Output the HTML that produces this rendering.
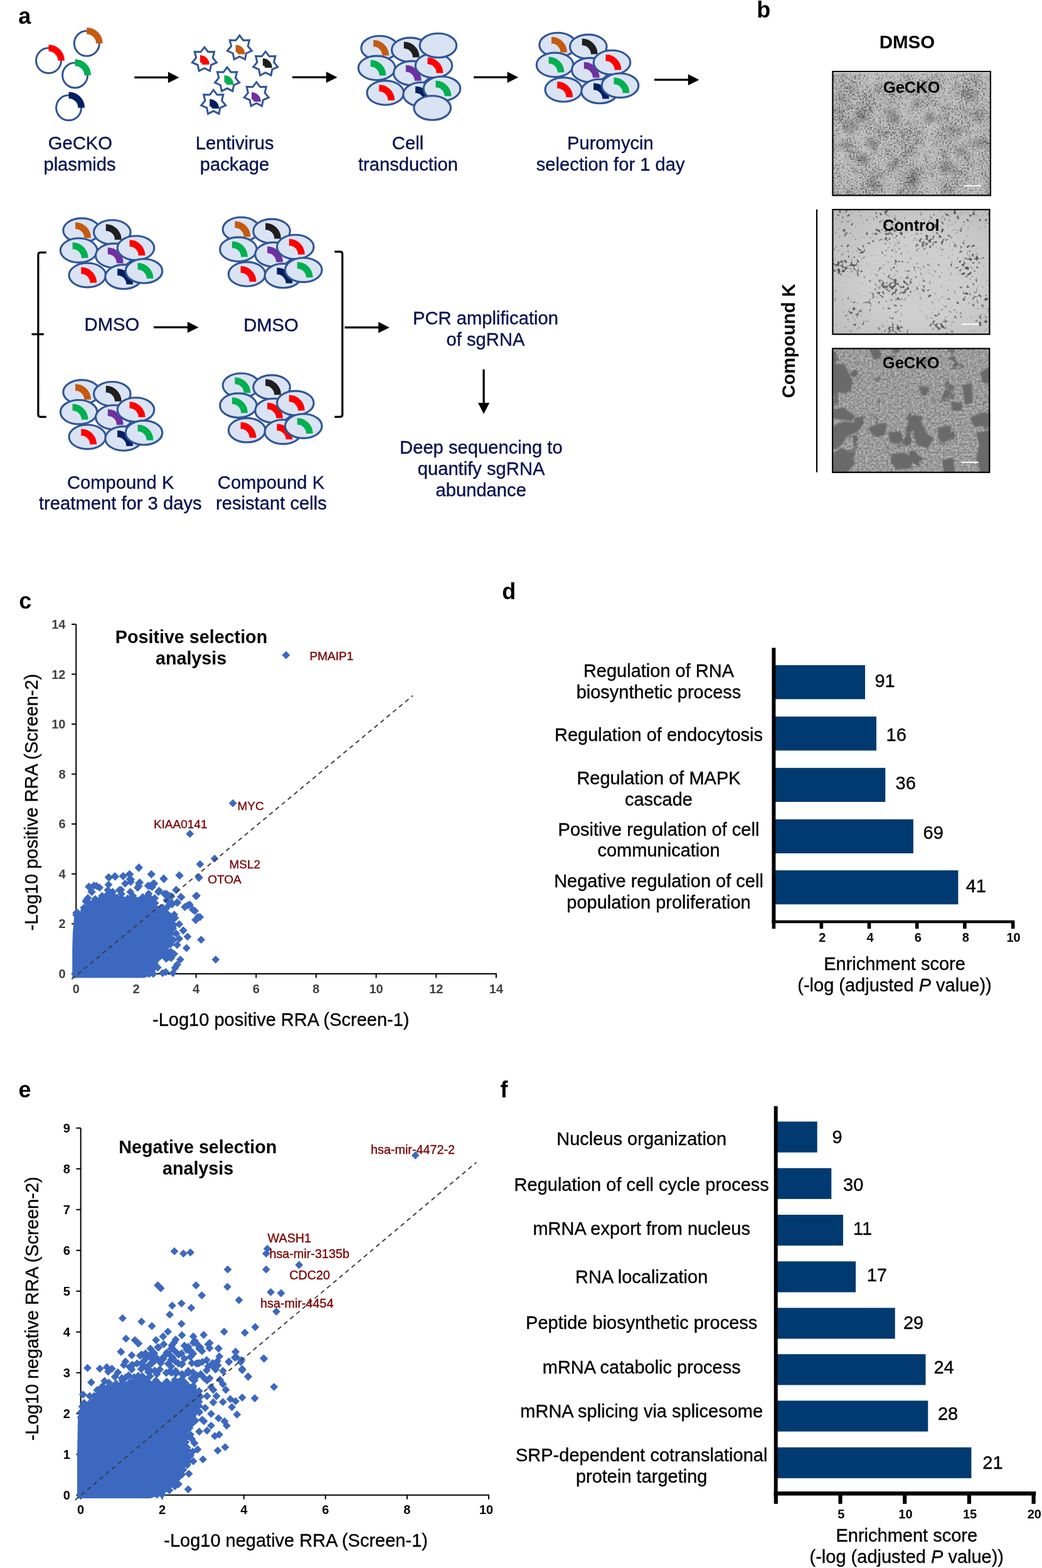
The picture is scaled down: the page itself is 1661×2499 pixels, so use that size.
<!DOCTYPE html>
<html><head><meta charset="utf-8"><title>Figure</title>
<style>html,body{margin:0;padding:0;background:#fff;}svg{display:block;}text{font-family:'Liberation Sans', Arial, Helvetica, sans-serif;}</style>
</head><body>
<svg width="1661" height="2499" viewBox="0 0 1661 2499" font-family="'Liberation Sans', Arial, Helvetica, sans-serif">
<rect width="1661" height="2499" fill="#fff"/>
<defs>
<filter id="blot" x="-1" y="-1" width="3" height="3"><feGaussianBlur stdDeviation="3.5"/></filter>
<filter id="soft" x="-0.1" y="-0.1" width="1.2" height="1.2"><feGaussianBlur stdDeviation="0.8"/></filter>
<radialGradient id="vig" cx="0.55" cy="0.55" r="0.75"><stop offset="0.45" stop-color="#000" stop-opacity="0"/><stop offset="1" stop-color="#000" stop-opacity="0.09"/></radialGradient>
<filter id="m1" x="0" y="0" width="1" height="1" color-interpolation-filters="sRGB">
 <feTurbulence type="fractalNoise" baseFrequency="0.4" numOctaves="2" seed="4" result="f0"/>
 <feColorMatrix in="f0" type="matrix" values="1 0 0 0 0 1 0 0 0 0 1 0 0 0 0 0 0 0 0 1" result="f"/>
 <feTurbulence type="fractalNoise" baseFrequency="0.03" numOctaves="3" seed="9" result="c0"/>
 <feColorMatrix in="c0" type="matrix" values="1 0 0 0 0 1 0 0 0 0 1 0 0 0 0 0 0 0 0 1" result="c"/>
 <feComposite in="f" in2="c" operator="arithmetic" k1="0" k2="0.75" k3="0.25" k4="0" result="m"/>
 <feComponentTransfer in="m" result="base"><feFuncR type="table" tableValues="0.79 0.79 0.79 0.78 0.77 0.73 0.56 0.40 0.35 0.3 0.3"/><feFuncG type="table" tableValues="0.79 0.79 0.79 0.78 0.77 0.73 0.56 0.40 0.35 0.3 0.3"/><feFuncB type="table" tableValues="0.79 0.79 0.79 0.78 0.77 0.73 0.56 0.40 0.35 0.3 0.3"/></feComponentTransfer>
 <feTurbulence type="fractalNoise" baseFrequency="0.06" numOctaves="2" seed="17" result="b0"/>
 <feColorMatrix in="b0" type="matrix" values="1 0 0 0 0 1 0 0 0 0 1 0 0 0 0 0 0 0 0 1" result="b"/>
 <feComponentTransfer in="b" result="bt"><feFuncR type="table" tableValues="1 1 1 1 1 1 0.97 0.9 0.86 0.85 0.85"/><feFuncG type="table" tableValues="1 1 1 1 1 1 0.97 0.9 0.86 0.85 0.85"/><feFuncB type="table" tableValues="1 1 1 1 1 1 0.97 0.9 0.86 0.85 0.85"/></feComponentTransfer>
 <feComposite in="base" in2="bt" operator="arithmetic" k1="1" k2="0" k3="0" k4="0"/>
</filter>
<filter id="m2" x="0" y="0" width="1" height="1" color-interpolation-filters="sRGB">
 <feTurbulence type="fractalNoise" baseFrequency="0.2" numOctaves="2" seed="21" result="f0"/>
 <feColorMatrix in="f0" type="matrix" values="1 0 0 0 0 1 0 0 0 0 1 0 0 0 0 0 0 0 0 1" result="f"/>
 <feTurbulence type="fractalNoise" baseFrequency="0.025" numOctaves="2" seed="5" result="c0"/>
 <feColorMatrix in="c0" type="matrix" values="1 0 0 0 0 1 0 0 0 0 1 0 0 0 0 0 0 0 0 1" result="c"/>
 <feComposite in="f" in2="c" operator="arithmetic" k1="0" k2="0.62" k3="0.38" k4="0" result="m"/>
 <feComponentTransfer in="m"><feFuncR type="table" tableValues="0.810 0.810 0.810 0.810 0.810 0.810 0.810 0.810 0.810 0.810 0.810 0.810 0.810 0.810 0.810 0.810 0.810 0.810 0.810 0.810 0.810 0.810 0.810 0.810 0.810 0.810 0.810 0.810 0.810 0.785 0.760 0.657 0.557 0.466 0.402 0.366 0.330 0.328 0.326 0.324 0.321 0.319 0.317 0.315 0.313 0.311 0.309 0.306 0.304 0.302 0.300"/><feFuncG type="table" tableValues="0.810 0.810 0.810 0.810 0.810 0.810 0.810 0.810 0.810 0.810 0.810 0.810 0.810 0.810 0.810 0.810 0.810 0.810 0.810 0.810 0.810 0.810 0.810 0.810 0.810 0.810 0.810 0.810 0.810 0.785 0.760 0.657 0.557 0.466 0.402 0.366 0.330 0.328 0.326 0.324 0.321 0.319 0.317 0.315 0.313 0.311 0.309 0.306 0.304 0.302 0.300"/><feFuncB type="table" tableValues="0.810 0.810 0.810 0.810 0.810 0.810 0.810 0.810 0.810 0.810 0.810 0.810 0.810 0.810 0.810 0.810 0.810 0.810 0.810 0.810 0.810 0.810 0.810 0.810 0.810 0.810 0.810 0.810 0.810 0.785 0.760 0.657 0.557 0.466 0.402 0.366 0.330 0.328 0.326 0.324 0.321 0.319 0.317 0.315 0.313 0.311 0.309 0.306 0.304 0.302 0.300"/></feComponentTransfer>
</filter>
<filter id="m3" x="0" y="0" width="1" height="1" color-interpolation-filters="sRGB">
 <feTurbulence type="fractalNoise" baseFrequency="0.032" numOctaves="4" seed="3" result="c0"/>
 <feColorMatrix in="c0" type="matrix" values="1 0 0 0 0 1 0 0 0 0 1 0 0 0 0 0 0 0 0 1" result="c"/>
 <feComponentTransfer in="c" result="ct"><feFuncR type="table" tableValues="0.410 0.410 0.410 0.410 0.410 0.410 0.477 0.610 0.610 0.610 0.610 0.610 0.610 0.610 0.610 0.610 0.610 0.610 0.610 0.610 0.610"/><feFuncG type="table" tableValues="0.410 0.410 0.410 0.410 0.410 0.410 0.477 0.610 0.610 0.610 0.610 0.610 0.610 0.610 0.610 0.610 0.610 0.610 0.610 0.610 0.610"/><feFuncB type="table" tableValues="0.410 0.410 0.410 0.410 0.410 0.410 0.477 0.610 0.610 0.610 0.610 0.610 0.610 0.610 0.610 0.610 0.610 0.610 0.610 0.610 0.610"/></feComponentTransfer>
 <feTurbulence type="fractalNoise" baseFrequency="0.3" numOctaves="2" seed="11" result="f0"/>
 <feColorMatrix in="f0" type="matrix" values="1 0 0 0 0 1 0 0 0 0 1 0 0 0 0 0 0 0 0 1" result="f"/>
 <feComposite in="ct" in2="f" operator="arithmetic" k1="2.2" k2="-0.1" k3="-0.88" k4="0.44"/>
</filter>
</defs>
<text x="29.2" y="38.3" font-size="36" fill="#000" font-weight="bold">a</text>
<text x="1206.2" y="27.6" font-size="36" fill="#000" font-weight="bold">b</text>
<text x="30.3" y="969.6" font-size="36" fill="#000" font-weight="bold">c</text>
<text x="800.3" y="954.9" font-size="36" fill="#000" font-weight="bold">d</text>
<text x="29.5" y="1748.7" font-size="36" fill="#000" font-weight="bold">e</text>
<text x="797.5" y="1748.8" font-size="36" fill="#000" font-weight="bold">f</text>
<circle cx="138.3" cy="69.3" r="20" fill="none" stroke="#2f5597" stroke-width="3"/>
<path d="M138.3 49.2A20.1 20.1 0 0 1 158.4 69.3" fill="none" stroke="#c55a11" stroke-width="10.6"/>
<circle cx="77.5" cy="96.6" r="20" fill="none" stroke="#2f5597" stroke-width="3"/>
<path d="M77.5 76.5A20.1 20.1 0 0 1 97.6 96.6" fill="none" stroke="#ff0000" stroke-width="10.6"/>
<circle cx="119.6" cy="120" r="20" fill="none" stroke="#2f5597" stroke-width="3"/>
<path d="M119.6 99.9A20.1 20.1 0 0 1 139.7 120" fill="none" stroke="#00b050" stroke-width="10.6"/>
<circle cx="109.6" cy="171.8" r="20" fill="none" stroke="#2f5597" stroke-width="3"/>
<path d="M109.6 151.7A20.1 20.1 0 0 1 129.7 171.8" fill="none" stroke="#002060" stroke-width="10.6"/>
<polygon points="325.9,75.1 331.8,82.8 341.5,82.6 339.2,92.1 345.4,99.6 336.5,103.6 334.6,113.1 325.9,108.7 317.2,113.1 315.3,103.6 306.4,99.6 312.6,92.1 310.3,82.6 320,82.8" fill="#fff" stroke="#2f5597" stroke-width="3"/>
<path d="M318.9 88A15 15 0 0 1 333.9 103L322.4 103A3.5 3.5 0 0 0 318.9 99.5Z" fill="#ff0000"/>
<polygon points="381.9,56.5 387.8,64.2 397.5,64 395.2,73.5 401.4,81 392.5,85 390.6,94.5 381.9,90.1 373.2,94.5 371.3,85 362.4,81 368.6,73.5 366.3,64 376,64.2" fill="#fff" stroke="#2f5597" stroke-width="3"/>
<path d="M375.6 71.4A15 15 0 0 1 390.6 86.4L379.1 86.4A3.5 3.5 0 0 0 375.6 82.9Z" fill="#c55a11"/>
<polygon points="423.3,82.1 429.2,89.8 438.9,89.6 436.6,99.1 442.8,106.6 433.9,110.6 432,120.1 423.3,115.7 414.6,120.1 412.7,110.6 403.8,106.6 410,99.1 407.7,89.6 417.4,89.8" fill="#fff" stroke="#2f5597" stroke-width="3"/>
<path d="M418.9 93.1A15 15 0 0 1 433.9 108.1L422.4 108.1A3.5 3.5 0 0 0 418.9 104.6Z" fill="#1f1f1f"/>
<polygon points="362.1,107.2 368,114.9 377.7,114.7 375.4,124.2 381.6,131.7 372.7,135.7 370.8,145.2 362.1,140.8 353.4,145.2 351.5,135.7 342.6,131.7 348.8,124.2 346.5,114.7 356.2,114.9" fill="#fff" stroke="#2f5597" stroke-width="3"/>
<path d="M357.5 120A15 15 0 0 1 372.5 135L361 135A3.5 3.5 0 0 0 357.5 131.5Z" fill="#00b050"/>
<polygon points="408.8,130.9 414.7,138.6 424.4,138.4 422.1,147.9 428.3,155.4 419.4,159.4 417.5,168.9 408.8,164.5 400.1,168.9 398.2,159.4 389.3,155.4 395.5,147.9 393.2,138.4 402.9,138.6" fill="#fff" stroke="#2f5597" stroke-width="3"/>
<path d="M401 147A15 15 0 0 1 416 162L404.5 162A3.5 3.5 0 0 0 401 158.5Z" fill="#7030a0"/>
<polygon points="340.3,143.4 346.2,151.1 355.9,150.9 353.6,160.4 359.8,167.9 350.9,171.9 349,181.4 340.3,177 331.6,181.4 329.7,171.9 320.8,167.9 327,160.4 324.7,150.9 334.4,151.1" fill="#fff" stroke="#2f5597" stroke-width="3"/>
<path d="M334.2 157.9A15 15 0 0 1 349.2 172.9L337.7 172.9A3.5 3.5 0 0 0 334.2 169.4Z" fill="#002060"/>
<ellipse cx="605.1" cy="76.5" rx="29.3" ry="19.3" fill="#dae3f3" stroke="#2f5597" stroke-width="3.1"/>
<path d="M595.1 69A19.6 19.6 0 0 1 614.6 88.5" fill="none" stroke="#c55a11" stroke-width="10.7"/>
<ellipse cx="653.8" cy="79.4" rx="29.3" ry="19.3" fill="#dae3f3" stroke="#2f5597" stroke-width="3.1"/>
<path d="M643.8 71.9A19.6 19.6 0 0 1 663.3 91.4" fill="none" stroke="#1f1f1f" stroke-width="10.7"/>
<ellipse cx="600.6" cy="108.4" rx="29.3" ry="19.3" fill="#dae3f3" stroke="#2f5597" stroke-width="3.1"/>
<path d="M590.6 100.9A19.6 19.6 0 0 1 610.1 120.4" fill="none" stroke="#00b050" stroke-width="10.7"/>
<ellipse cx="656.8" cy="116.7" rx="29.3" ry="19.3" fill="#dae3f3" stroke="#2f5597" stroke-width="3.1"/>
<path d="M646.8 109.1A19.6 19.6 0 0 1 666.3 128.7" fill="none" stroke="#7030a0" stroke-width="10.7"/>
<ellipse cx="691.5" cy="104.6" rx="29.3" ry="19.3" fill="#dae3f3" stroke="#2f5597" stroke-width="3.1"/>
<path d="M681.5 97A19.6 19.6 0 0 1 701 116.6" fill="none" stroke="#ff0000" stroke-width="10.7"/>
<ellipse cx="698.4" cy="72.5" rx="29.3" ry="19.3" fill="#dae3f3" stroke="#2f5597" stroke-width="3.1"/>
<ellipse cx="614.3" cy="147.9" rx="29.3" ry="19.3" fill="#dae3f3" stroke="#2f5597" stroke-width="3.1"/>
<path d="M604.3 140.3A19.6 19.6 0 0 1 623.8 159.9" fill="none" stroke="#ff0000" stroke-width="10.7"/>
<ellipse cx="672.1" cy="150.5" rx="29.3" ry="19.3" fill="#dae3f3" stroke="#2f5597" stroke-width="3.1"/>
<path d="M662.1 142.9A19.6 19.6 0 0 1 681.6 162.5" fill="none" stroke="#002060" stroke-width="10.7"/>
<ellipse cx="704.5" cy="141.3" rx="29.3" ry="19.3" fill="#dae3f3" stroke="#2f5597" stroke-width="3.1"/>
<path d="M694.5 133.8A19.6 19.6 0 0 1 714 153.3" fill="none" stroke="#00b050" stroke-width="10.7"/>
<ellipse cx="689.2" cy="172" rx="29.3" ry="19.3" fill="#dae3f3" stroke="#2f5597" stroke-width="3.1"/>
<ellipse cx="889.1" cy="71.5" rx="29.3" ry="19.3" fill="#dae3f3" stroke="#2f5597" stroke-width="3.1"/>
<path d="M879.1 64A19.6 19.6 0 0 1 898.6 83.5" fill="none" stroke="#c55a11" stroke-width="10.7"/>
<ellipse cx="937.8" cy="74.4" rx="29.3" ry="19.3" fill="#dae3f3" stroke="#2f5597" stroke-width="3.1"/>
<path d="M927.8 66.9A19.6 19.6 0 0 1 947.3 86.4" fill="none" stroke="#1f1f1f" stroke-width="10.7"/>
<ellipse cx="884.6" cy="103.4" rx="29.3" ry="19.3" fill="#dae3f3" stroke="#2f5597" stroke-width="3.1"/>
<path d="M874.6 95.9A19.6 19.6 0 0 1 894.1 115.4" fill="none" stroke="#00b050" stroke-width="10.7"/>
<ellipse cx="940.8" cy="111.7" rx="29.3" ry="19.3" fill="#dae3f3" stroke="#2f5597" stroke-width="3.1"/>
<path d="M930.8 104.2A19.6 19.6 0 0 1 950.3 123.7" fill="none" stroke="#7030a0" stroke-width="10.7"/>
<ellipse cx="975.5" cy="99.6" rx="29.3" ry="19.3" fill="#dae3f3" stroke="#2f5597" stroke-width="3.1"/>
<path d="M965.5 92A19.6 19.6 0 0 1 985 111.6" fill="none" stroke="#ff0000" stroke-width="10.7"/>
<ellipse cx="898.3" cy="142.9" rx="29.3" ry="19.3" fill="#dae3f3" stroke="#2f5597" stroke-width="3.1"/>
<path d="M888.3 135.3A19.6 19.6 0 0 1 907.8 154.9" fill="none" stroke="#ff0000" stroke-width="10.7"/>
<ellipse cx="956.1" cy="145.5" rx="29.3" ry="19.3" fill="#dae3f3" stroke="#2f5597" stroke-width="3.1"/>
<path d="M946.1 137.9A19.6 19.6 0 0 1 965.6 157.5" fill="none" stroke="#002060" stroke-width="10.7"/>
<ellipse cx="988.5" cy="136.3" rx="29.3" ry="19.3" fill="#dae3f3" stroke="#2f5597" stroke-width="3.1"/>
<path d="M978.5 128.8A19.6 19.6 0 0 1 998 148.3" fill="none" stroke="#00b050" stroke-width="10.7"/>
<ellipse cx="130.1" cy="367.2" rx="29.3" ry="19.3" fill="#dae3f3" stroke="#2f5597" stroke-width="3.1"/>
<path d="M120.1 359.6A19.6 19.6 0 0 1 139.7 379.2" fill="none" stroke="#c55a11" stroke-width="10.7"/>
<ellipse cx="178.8" cy="370.1" rx="29.3" ry="19.3" fill="#dae3f3" stroke="#2f5597" stroke-width="3.1"/>
<path d="M168.8 362.6A19.6 19.6 0 0 1 188.3 382.1" fill="none" stroke="#1f1f1f" stroke-width="10.7"/>
<ellipse cx="125.6" cy="399.1" rx="29.3" ry="19.3" fill="#dae3f3" stroke="#2f5597" stroke-width="3.1"/>
<path d="M115.6 391.6A19.6 19.6 0 0 1 135.2 411.1" fill="none" stroke="#00b050" stroke-width="10.7"/>
<ellipse cx="181.8" cy="407.4" rx="29.3" ry="19.3" fill="#dae3f3" stroke="#2f5597" stroke-width="3.1"/>
<path d="M171.8 399.8A19.6 19.6 0 0 1 191.3 419.4" fill="none" stroke="#7030a0" stroke-width="10.7"/>
<ellipse cx="216.5" cy="395.3" rx="29.3" ry="19.3" fill="#dae3f3" stroke="#2f5597" stroke-width="3.1"/>
<path d="M206.5 387.7A19.6 19.6 0 0 1 226.1 407.3" fill="none" stroke="#ff0000" stroke-width="10.7"/>
<ellipse cx="139.3" cy="438.6" rx="29.3" ry="19.3" fill="#dae3f3" stroke="#2f5597" stroke-width="3.1"/>
<path d="M129.3 431.1A19.6 19.6 0 0 1 148.8 450.6" fill="none" stroke="#ff0000" stroke-width="10.7"/>
<ellipse cx="197.1" cy="441.2" rx="29.3" ry="19.3" fill="#dae3f3" stroke="#2f5597" stroke-width="3.1"/>
<path d="M187.1 433.6A19.6 19.6 0 0 1 206.7 453.2" fill="none" stroke="#002060" stroke-width="10.7"/>
<ellipse cx="229.5" cy="432" rx="29.3" ry="19.3" fill="#dae3f3" stroke="#2f5597" stroke-width="3.1"/>
<path d="M219.5 424.4A19.6 19.6 0 0 1 239.1 444" fill="none" stroke="#00b050" stroke-width="10.7"/>
<ellipse cx="384.4" cy="365.5" rx="29.3" ry="19.3" fill="#dae3f3" stroke="#2f5597" stroke-width="3.1"/>
<path d="M374.4 357.9A19.6 19.6 0 0 1 394 377.5" fill="none" stroke="#c55a11" stroke-width="10.7"/>
<ellipse cx="433.1" cy="368.4" rx="29.3" ry="19.3" fill="#dae3f3" stroke="#2f5597" stroke-width="3.1"/>
<path d="M423.1 360.8A19.6 19.6 0 0 1 442.6 380.4" fill="none" stroke="#1f1f1f" stroke-width="10.7"/>
<ellipse cx="379.9" cy="397.4" rx="29.3" ry="19.3" fill="#dae3f3" stroke="#2f5597" stroke-width="3.1"/>
<path d="M369.9 389.8A19.6 19.6 0 0 1 389.5 409.4" fill="none" stroke="#00b050" stroke-width="10.7"/>
<ellipse cx="436.1" cy="405.7" rx="29.3" ry="19.3" fill="#dae3f3" stroke="#2f5597" stroke-width="3.1"/>
<path d="M426.1 398.1A19.6 19.6 0 0 1 445.6 417.7" fill="none" stroke="#7030a0" stroke-width="10.7"/>
<ellipse cx="470.8" cy="393.6" rx="29.3" ry="19.3" fill="#dae3f3" stroke="#2f5597" stroke-width="3.1"/>
<path d="M460.8 386.1A19.6 19.6 0 0 1 480.4 405.6" fill="none" stroke="#ff0000" stroke-width="10.7"/>
<ellipse cx="393.6" cy="436.9" rx="29.3" ry="19.3" fill="#dae3f3" stroke="#2f5597" stroke-width="3.1"/>
<path d="M383.6 429.3A19.6 19.6 0 0 1 403.1 448.9" fill="none" stroke="#ff0000" stroke-width="10.7"/>
<ellipse cx="451.4" cy="439.5" rx="29.3" ry="19.3" fill="#dae3f3" stroke="#2f5597" stroke-width="3.1"/>
<path d="M441.4 431.9A19.6 19.6 0 0 1 461 451.5" fill="none" stroke="#002060" stroke-width="10.7"/>
<ellipse cx="483.8" cy="430.3" rx="29.3" ry="19.3" fill="#dae3f3" stroke="#2f5597" stroke-width="3.1"/>
<path d="M473.8 422.8A19.6 19.6 0 0 1 493.4 442.3" fill="none" stroke="#00b050" stroke-width="10.7"/>
<ellipse cx="130.1" cy="624.9" rx="29.3" ry="19.3" fill="#dae3f3" stroke="#2f5597" stroke-width="3.1"/>
<path d="M120.1 617.4A19.6 19.6 0 0 1 139.7 636.9" fill="none" stroke="#c55a11" stroke-width="10.7"/>
<ellipse cx="178.8" cy="627.8" rx="29.3" ry="19.3" fill="#dae3f3" stroke="#2f5597" stroke-width="3.1"/>
<path d="M168.8 620.2A19.6 19.6 0 0 1 188.3 639.8" fill="none" stroke="#1f1f1f" stroke-width="10.7"/>
<ellipse cx="125.6" cy="656.8" rx="29.3" ry="19.3" fill="#dae3f3" stroke="#2f5597" stroke-width="3.1"/>
<path d="M115.6 649.2A19.6 19.6 0 0 1 135.2 668.8" fill="none" stroke="#00b050" stroke-width="10.7"/>
<ellipse cx="181.8" cy="665.1" rx="29.3" ry="19.3" fill="#dae3f3" stroke="#2f5597" stroke-width="3.1"/>
<path d="M171.8 657.6A19.6 19.6 0 0 1 191.3 677.1" fill="none" stroke="#7030a0" stroke-width="10.7"/>
<ellipse cx="216.5" cy="653" rx="29.3" ry="19.3" fill="#dae3f3" stroke="#2f5597" stroke-width="3.1"/>
<path d="M206.5 645.5A19.6 19.6 0 0 1 226.1 665" fill="none" stroke="#ff0000" stroke-width="10.7"/>
<ellipse cx="139.3" cy="696.3" rx="29.3" ry="19.3" fill="#dae3f3" stroke="#2f5597" stroke-width="3.1"/>
<path d="M129.3 688.8A19.6 19.6 0 0 1 148.8 708.3" fill="none" stroke="#ff0000" stroke-width="10.7"/>
<ellipse cx="197.1" cy="698.9" rx="29.3" ry="19.3" fill="#dae3f3" stroke="#2f5597" stroke-width="3.1"/>
<path d="M187.1 691.4A19.6 19.6 0 0 1 206.7 710.9" fill="none" stroke="#002060" stroke-width="10.7"/>
<ellipse cx="229.5" cy="689.7" rx="29.3" ry="19.3" fill="#dae3f3" stroke="#2f5597" stroke-width="3.1"/>
<path d="M219.5 682.2A19.6 19.6 0 0 1 239.1 701.7" fill="none" stroke="#00b050" stroke-width="10.7"/>
<ellipse cx="384.4" cy="614.3" rx="29.3" ry="19.3" fill="#dae3f3" stroke="#2f5597" stroke-width="3.1"/>
<path d="M374.4 606.8A19.6 19.6 0 0 1 394 626.3" fill="none" stroke="#00b050" stroke-width="10.7"/>
<ellipse cx="433.1" cy="617.2" rx="29.3" ry="19.3" fill="#dae3f3" stroke="#2f5597" stroke-width="3.1"/>
<path d="M423.1 609.6A19.6 19.6 0 0 1 442.6 629.2" fill="none" stroke="#1f1f1f" stroke-width="10.7"/>
<ellipse cx="379.9" cy="646.2" rx="29.3" ry="19.3" fill="#dae3f3" stroke="#2f5597" stroke-width="3.1"/>
<path d="M369.9 638.6A19.6 19.6 0 0 1 389.5 658.2" fill="none" stroke="#00b050" stroke-width="10.7"/>
<ellipse cx="436.1" cy="654.5" rx="29.3" ry="19.3" fill="#dae3f3" stroke="#2f5597" stroke-width="3.1"/>
<path d="M426.1 647A19.6 19.6 0 0 1 445.6 666.5" fill="none" stroke="#ff0000" stroke-width="10.7"/>
<ellipse cx="470.8" cy="642.4" rx="29.3" ry="19.3" fill="#dae3f3" stroke="#2f5597" stroke-width="3.1"/>
<path d="M460.8 634.9A19.6 19.6 0 0 1 480.4 654.4" fill="none" stroke="#ff0000" stroke-width="10.7"/>
<ellipse cx="393.6" cy="685.7" rx="29.3" ry="19.3" fill="#dae3f3" stroke="#2f5597" stroke-width="3.1"/>
<path d="M383.6 678.1A19.6 19.6 0 0 1 403.1 697.7" fill="none" stroke="#ff0000" stroke-width="10.7"/>
<ellipse cx="451.4" cy="688.3" rx="29.3" ry="19.3" fill="#dae3f3" stroke="#2f5597" stroke-width="3.1"/>
<path d="M441.4 680.8A19.6 19.6 0 0 1 461 700.3" fill="none" stroke="#ff0000" stroke-width="10.7"/>
<ellipse cx="483.8" cy="679.1" rx="29.3" ry="19.3" fill="#dae3f3" stroke="#2f5597" stroke-width="3.1"/>
<path d="M473.8 671.5A19.6 19.6 0 0 1 493.4 691.1" fill="none" stroke="#00b050" stroke-width="10.7"/>
<line x1="214.3" y1="123.4" x2="268.9" y2="123.4" stroke="#000" stroke-width="3.3"/>
<polygon points="267.9,114.5 285.6,123.4 267.9,132.3" fill="#000"/>
<line x1="466.1" y1="123.2" x2="521" y2="123.2" stroke="#000" stroke-width="3.3"/>
<polygon points="520,114.3 537.7,123.2 520,132.1" fill="#000"/>
<line x1="755.1" y1="123.2" x2="809.6" y2="123.2" stroke="#000" stroke-width="3.3"/>
<polygon points="808.6,114.3 826.3,123.2 808.6,132.1" fill="#000"/>
<line x1="1043.1" y1="127.2" x2="1097.8" y2="127.2" stroke="#000" stroke-width="3.3"/>
<polygon points="1096.8,118.3 1114.5,127.2 1096.8,136.1" fill="#000"/>
<line x1="245" y1="521.7" x2="299.8" y2="521.7" stroke="#000" stroke-width="3.3"/>
<polygon points="298.8,512.8 316.5,521.7 298.8,530.6" fill="#000"/>
<line x1="549.5" y1="521.9" x2="604.2" y2="521.9" stroke="#000" stroke-width="3.3"/>
<polygon points="603.2,513 620.9,521.9 603.2,530.8" fill="#000"/>
<line x1="771.1" y1="588.7" x2="771.1" y2="643.1" stroke="#000" stroke-width="3.3"/>
<polygon points="762,642.1 771.1,659.8 780.2,642.1" fill="#000"/>
<path d="M73.8 402.3H64.5Q60.9 402.3 60.9 405.9V660.7Q60.9 664.3 64.5 664.3H73.8" fill="none" stroke="#000" stroke-width="3.2"/>
<line x1="50.5" y1="532.7" x2="69.8" y2="532.7" stroke="#000" stroke-width="3.2"/>
<path d="M533.3 401.1H542.2Q545.8 401.1 545.8 404.7V660.7Q545.8 664.3 542.2 664.3H533.3" fill="none" stroke="#000" stroke-width="3.2"/>
<text x="127.8" y="238.3" font-size="29.2" fill="#050f4f" text-anchor="middle" stroke="#050f4f" stroke-width="0.35">GeCKO</text>
<text x="127" y="271.9" font-size="29.2" fill="#050f4f" text-anchor="middle" stroke="#050f4f" stroke-width="0.35">plasmids</text>
<text x="374.2" y="238.3" font-size="29.2" fill="#050f4f" text-anchor="middle" stroke="#050f4f" stroke-width="0.35">Lentivirus</text>
<text x="374" y="271.9" font-size="29.2" fill="#050f4f" text-anchor="middle" stroke="#050f4f" stroke-width="0.35">package</text>
<text x="650" y="237.9" font-size="29.2" fill="#050f4f" text-anchor="middle" stroke="#050f4f" stroke-width="0.35">Cell</text>
<text x="650.4" y="272.3" font-size="29.2" fill="#050f4f" text-anchor="middle" stroke="#050f4f" stroke-width="0.35">transduction</text>
<text x="972.9" y="237.9" font-size="29.2" fill="#050f4f" text-anchor="middle" stroke="#050f4f" stroke-width="0.35">Puromycin</text>
<text x="973.2" y="272.3" font-size="29.2" fill="#050f4f" text-anchor="middle" stroke="#050f4f" stroke-width="0.35">selection for 1 day</text>
<text x="178.4" y="526.8" font-size="29.2" fill="#050f4f" text-anchor="middle" stroke="#050f4f" stroke-width="0.35">DMSO</text>
<text x="432" y="528.1" font-size="29.2" fill="#050f4f" text-anchor="middle" stroke="#050f4f" stroke-width="0.35">DMSO</text>
<text x="774" y="516.7" font-size="29.2" fill="#050f4f" text-anchor="middle" stroke="#050f4f" stroke-width="0.35">PCR amplification</text>
<text x="774" y="551.2" font-size="29.2" fill="#050f4f" text-anchor="middle" stroke="#050f4f" stroke-width="0.35">of sgRNA</text>
<text x="766.9" y="722.6" font-size="29.2" fill="#050f4f" text-anchor="middle" stroke="#050f4f" stroke-width="0.35">Deep sequencing to</text>
<text x="767.1" y="757" font-size="29.2" fill="#050f4f" text-anchor="middle" stroke="#050f4f" stroke-width="0.35">quantify sgRNA</text>
<text x="766.7" y="790.9" font-size="29.2" fill="#050f4f" text-anchor="middle" stroke="#050f4f" stroke-width="0.35">abundance</text>
<text x="192.2" y="779.1" font-size="29.2" fill="#050f4f" text-anchor="middle" stroke="#050f4f" stroke-width="0.35">Compound K</text>
<text x="191.8" y="811.9" font-size="29.2" fill="#050f4f" text-anchor="middle" stroke="#050f4f" stroke-width="0.35">treatment for 3 days</text>
<text x="432" y="779.1" font-size="29.2" fill="#050f4f" text-anchor="middle" stroke="#050f4f" stroke-width="0.35">Compound K</text>
<text x="432.4" y="811.9" font-size="29.2" fill="#050f4f" text-anchor="middle" stroke="#050f4f" stroke-width="0.35">resistant cells</text>
<text x="1445.9" y="77.1" font-size="29.5" fill="#000" text-anchor="middle" font-weight="bold">DMSO</text>
<text transform="translate(1267 543.4) rotate(-90)" x="0" y="0" font-size="29" font-weight="bold" text-anchor="middle">Compound K</text>
<line x1="1302" y1="333.8" x2="1302" y2="752.8" stroke="#000" stroke-width="2.2"/>
<rect x="1327.4" y="114" width="251.5" height="197.4" filter="url(#m1)" opacity="1"/>
<ellipse cx="1356.2" cy="201.6" rx="12" ry="9" fill="#000" opacity="0.2" filter="url(#blot)"/>
<ellipse cx="1342.4" cy="158.5" rx="9" ry="7" fill="#000" opacity="0.2" filter="url(#blot)"/>
<ellipse cx="1423.3" cy="186.1" rx="10" ry="8" fill="#000" opacity="0.2" filter="url(#blot)"/>
<ellipse cx="1481.9" cy="186.1" rx="9" ry="8" fill="#000" opacity="0.2" filter="url(#blot)"/>
<ellipse cx="1559.4" cy="186.1" rx="9" ry="8" fill="#000" opacity="0.2" filter="url(#blot)"/>
<ellipse cx="1561" cy="227.4" rx="10" ry="8" fill="#000" opacity="0.2" filter="url(#blot)"/>
<ellipse cx="1345.8" cy="230.9" rx="10" ry="7" fill="#000" opacity="0.2" filter="url(#blot)"/>
<ellipse cx="1388.9" cy="227.4" rx="10" ry="8" fill="#000" opacity="0.2" filter="url(#blot)"/>
<ellipse cx="1509.4" cy="268" rx="12" ry="10" fill="#000" opacity="0.2" filter="url(#blot)"/>
<ellipse cx="1454.3" cy="286" rx="11" ry="7" fill="#000" opacity="0.2" filter="url(#blot)"/>
<ellipse cx="1423.3" cy="263.6" rx="9" ry="7" fill="#000" opacity="0.2" filter="url(#blot)"/>
<ellipse cx="1376.8" cy="255" rx="10" ry="7" fill="#000" opacity="0.2" filter="url(#blot)"/>
<ellipse cx="1530" cy="241.2" rx="9" ry="7" fill="#000" opacity="0.2" filter="url(#blot)"/>
<ellipse cx="1540.4" cy="148.2" rx="9" ry="7" fill="#000" opacity="0.2" filter="url(#blot)"/>
<ellipse cx="1371.7" cy="182.7" rx="8" ry="8" fill="#000" opacity="0.2" filter="url(#blot)"/>
<ellipse cx="1461.2" cy="165.4" rx="8" ry="6" fill="#000" opacity="0.2" filter="url(#blot)"/>
<ellipse cx="1519.8" cy="206.8" rx="8" ry="7" fill="#000" opacity="0.2" filter="url(#blot)"/>
<ellipse cx="1400.9" cy="298" rx="10" ry="6" fill="#000" opacity="0.2" filter="url(#blot)"/>
<line x1="1328.4" y1="115.6" x2="1577.9" y2="115.6" stroke="#fff" stroke-width="1.4"/>
<rect x="1327.4" y="114" width="251.5" height="197.4" fill="none" stroke="#000" stroke-width="2.2"/>
<line x1="1535.9" y1="296.1" x2="1564" y2="296.1" stroke="#fff" stroke-width="2"/>
<text x="1453.2" y="147.8" font-size="25.5" fill="#000" text-anchor="middle" font-weight="bold">GeCKO</text>
<rect x="1327.4" y="334" width="250" height="198.7" filter="url(#m2)" opacity="1"/>
<rect x="1327.4" y="334" width="250" height="198.7" fill="url(#vig)"/>
<rect x="1327.4" y="334" width="250" height="198.7" fill="none" stroke="#000" stroke-width="2.2"/>
<line x1="1533" y1="516.7" x2="1560.6" y2="516.7" stroke="#fff" stroke-width="2"/>
<text x="1452.4" y="367.8" font-size="25.5" fill="#000" text-anchor="middle" font-weight="bold">Control</text>
<rect x="1327.2" y="555.5" width="250" height="197.3" filter="url(#m3)" opacity="1"/>
<polygon points="1328.4,581.3 1345.3,581.3 1350.1,591 1358.1,607 1355.7,621.5 1345.3,626.3 1335.6,623.1 1328.4,626.3" fill="#6b6b6b" stroke="#6b6b6b" stroke-width="2.5" stroke-linejoin="round" filter="url(#soft)"/>
<polygon points="1387.1,557.2 1401.5,557.2 1403.1,570.1 1393.5,571.7" fill="#6b6b6b" stroke="#6b6b6b" stroke-width="2.5" stroke-linejoin="round" filter="url(#soft)"/>
<polygon points="1563.9,594.2 1576.7,586.1 1576.7,610.3 1567.1,608.6" fill="#6b6b6b" stroke="#6b6b6b" stroke-width="2.5" stroke-linejoin="round" filter="url(#soft)"/>
<polygon points="1465.8,616.7 1480.3,618.3 1475.5,629.5 1470.6,629.5" fill="#6b6b6b" stroke="#6b6b6b" stroke-width="2.5" stroke-linejoin="round" filter="url(#soft)"/>
<polygon points="1329.2,653.6 1343.7,650.4 1361.4,663.3 1358.1,669.7 1335.6,666.5 1329.2,666.5" fill="#6b6b6b" stroke="#6b6b6b" stroke-width="2.5" stroke-linejoin="round" filter="url(#soft)"/>
<polygon points="1329.2,679.4 1345.3,672.9 1369.4,676.1 1366.2,687.4 1348.5,695.4 1342.1,706.7 1332.4,714.7 1329.2,713.1" fill="#6b6b6b" stroke="#6b6b6b" stroke-width="2.5" stroke-linejoin="round" filter="url(#soft)"/>
<polygon points="1329.2,722.8 1342.1,714.7 1358.1,724.4 1361.4,738.8 1350.1,751.7 1329.2,751.7" fill="#6b6b6b" stroke="#6b6b6b" stroke-width="2.5" stroke-linejoin="round" filter="url(#soft)"/>
<polygon points="1385.5,682.6 1401.5,676.1 1412.8,676.1 1409.6,692.2 1396.7,695.4 1390.3,690.6" fill="#6b6b6b" stroke="#6b6b6b" stroke-width="2.5" stroke-linejoin="round" filter="url(#soft)"/>
<polygon points="1417.6,689 1435.3,689 1438.5,701.9 1425.6,706.7 1419.2,701.9" fill="#6b6b6b" stroke="#6b6b6b" stroke-width="2.5" stroke-linejoin="round" filter="url(#soft)"/>
<polygon points="1454.6,672.9 1467.4,672.9 1477.1,692.2 1486.7,698.6 1478.7,713.1 1462.6,708.3 1457.8,695.4" fill="#6b6b6b" stroke="#6b6b6b" stroke-width="2.5" stroke-linejoin="round" filter="url(#soft)"/>
<polygon points="1496.4,682.6 1514,679.4 1515.6,695.4 1504.4,705.1 1496.4,698.6" fill="#6b6b6b" stroke="#6b6b6b" stroke-width="2.5" stroke-linejoin="round" filter="url(#soft)"/>
<polygon points="1547.8,666.5 1563.9,658.5 1576.7,660.1 1576.7,679.4 1562.3,677.8 1554.2,679.4" fill="#6b6b6b" stroke="#6b6b6b" stroke-width="2.5" stroke-linejoin="round" filter="url(#soft)"/>
<polygon points="1557.4,690.6 1576.7,687.4 1576.7,751.7 1563.9,751.7 1557.4,730.8 1562.3,708.3" fill="#6b6b6b" stroke="#6b6b6b" stroke-width="2.5" stroke-linejoin="round" filter="url(#soft)"/>
<polygon points="1422.4,724.4 1441.7,722.8 1454.6,730.8 1451.4,745.3 1428.9,746.9 1420.8,735.6" fill="#6b6b6b" stroke="#6b6b6b" stroke-width="2.5" stroke-linejoin="round" filter="url(#soft)"/>
<polygon points="1502.8,734 1518.9,730.8 1520.5,751.7 1506,751.7" fill="#6b6b6b" stroke="#6b6b6b" stroke-width="2.5" stroke-linejoin="round" filter="url(#soft)"/>
<polygon points="1534.9,615.1 1547.8,611.1 1549.4,640.8 1539.7,644" fill="#6b6b6b" stroke="#6b6b6b" stroke-width="2.5" stroke-linejoin="round" filter="url(#soft)"/>
<polygon points="1517.3,640.8 1533.3,644 1531.7,653.6 1518.9,653.6" fill="#6b6b6b" stroke="#6b6b6b" stroke-width="2.5" stroke-linejoin="round" filter="url(#soft)"/>
<rect x="1327.2" y="555.5" width="250" height="197.3" fill="none" stroke="#000" stroke-width="2.2"/>
<line x1="1532.6" y1="736.8" x2="1559.8" y2="736.8" stroke="#fff" stroke-width="2"/>
<text x="1452.2" y="586.8" font-size="25.5" fill="#000" text-anchor="middle" font-weight="bold">GeCKO</text>
<line x1="121.3" y1="995" x2="121.3" y2="1552.8" stroke="#000" stroke-width="2"/>
<line x1="120.3" y1="1552" x2="791.9" y2="1552" stroke="#000" stroke-width="2"/>
<line x1="114.1" y1="1552" x2="121.3" y2="1552" stroke="#000" stroke-width="2"/>
<line x1="121.3" y1="1552" x2="121.3" y2="1558.5" stroke="#000" stroke-width="2"/>
<text x="104.5" y="1559" font-size="20" fill="#404040" text-anchor="end" font-weight="bold">0</text>
<text x="121.3" y="1582.7" font-size="20" fill="#404040" text-anchor="middle" font-weight="bold">0</text>
<line x1="114.1" y1="1472.4" x2="121.3" y2="1472.4" stroke="#000" stroke-width="2"/>
<line x1="217" y1="1552" x2="217" y2="1558.5" stroke="#000" stroke-width="2"/>
<text x="104.5" y="1479.4" font-size="20" fill="#404040" text-anchor="end" font-weight="bold">2</text>
<text x="217" y="1582.7" font-size="20" fill="#404040" text-anchor="middle" font-weight="bold">2</text>
<line x1="114.1" y1="1392.8" x2="121.3" y2="1392.8" stroke="#000" stroke-width="2"/>
<line x1="312.6" y1="1552" x2="312.6" y2="1558.5" stroke="#000" stroke-width="2"/>
<text x="104.5" y="1399.8" font-size="20" fill="#404040" text-anchor="end" font-weight="bold">4</text>
<text x="312.6" y="1582.7" font-size="20" fill="#404040" text-anchor="middle" font-weight="bold">4</text>
<line x1="114.1" y1="1313.3" x2="121.3" y2="1313.3" stroke="#000" stroke-width="2"/>
<line x1="408.3" y1="1552" x2="408.3" y2="1558.5" stroke="#000" stroke-width="2"/>
<text x="104.5" y="1320.3" font-size="20" fill="#404040" text-anchor="end" font-weight="bold">6</text>
<text x="408.3" y="1582.7" font-size="20" fill="#404040" text-anchor="middle" font-weight="bold">6</text>
<line x1="114.1" y1="1233.7" x2="121.3" y2="1233.7" stroke="#000" stroke-width="2"/>
<line x1="503.9" y1="1552" x2="503.9" y2="1558.5" stroke="#000" stroke-width="2"/>
<text x="104.5" y="1240.7" font-size="20" fill="#404040" text-anchor="end" font-weight="bold">8</text>
<text x="503.9" y="1582.7" font-size="20" fill="#404040" text-anchor="middle" font-weight="bold">8</text>
<line x1="114.1" y1="1154.1" x2="121.3" y2="1154.1" stroke="#000" stroke-width="2"/>
<line x1="599.6" y1="1552" x2="599.6" y2="1558.5" stroke="#000" stroke-width="2"/>
<text x="104.5" y="1161.1" font-size="20" fill="#404040" text-anchor="end" font-weight="bold">10</text>
<text x="599.6" y="1582.7" font-size="20" fill="#404040" text-anchor="middle" font-weight="bold">10</text>
<line x1="114.1" y1="1074.5" x2="121.3" y2="1074.5" stroke="#000" stroke-width="2"/>
<line x1="695.3" y1="1552" x2="695.3" y2="1558.5" stroke="#000" stroke-width="2"/>
<text x="104.5" y="1081.5" font-size="20" fill="#404040" text-anchor="end" font-weight="bold">12</text>
<text x="695.3" y="1582.7" font-size="20" fill="#404040" text-anchor="middle" font-weight="bold">12</text>
<line x1="114.1" y1="994.9" x2="121.3" y2="994.9" stroke="#000" stroke-width="2"/>
<line x1="790.9" y1="1552" x2="790.9" y2="1558.5" stroke="#000" stroke-width="2"/>
<text x="104.5" y="1001.9" font-size="20" fill="#404040" text-anchor="end" font-weight="bold">14</text>
<text x="790.9" y="1582.7" font-size="20" fill="#404040" text-anchor="middle" font-weight="bold">14</text>
<path d="M115.2 1558.6L115.2 1514L116 1486L118.5 1458L121.6 1454.6L133.2 1453L138.1 1438L149.8 1433L161.4 1428.1L171.3 1420L186.2 1429.8L192.9 1426.4L202.8 1431.4L212.8 1429.8L226 1429.8L236 1423L245.9 1429.8L249.3 1446.3L265.8 1449.7L275.8 1458L272.5 1472.9L278 1474L272.5 1486.1L275.8 1496.1L265.8 1509.4L276 1520L272 1528L255 1527L250 1540L246 1552.5L230 1558.6Z" fill="#3c68c0"/>
<path d="M121.6 1451.8L128 1458.2L121.6 1464.6L115.2 1458.2ZM121.6 1448.6L128 1455L121.6 1461.4L115.2 1455ZM133.7 1444.9L140.1 1451.3L133.7 1457.7L127.3 1451.3ZM133.7 1440.4L140.1 1446.8L133.7 1453.2L127.3 1446.8ZM137.1 1430.5L143.5 1436.9L137.1 1443.3L130.7 1436.9ZM151.8 1426.5L158.2 1432.9L151.8 1439.3L145.4 1432.9ZM162.7 1421.6L169.1 1428L162.7 1434.4L156.3 1428ZM171.9 1412.2L178.3 1418.6L171.9 1425L165.5 1418.6ZM179.3 1420L185.7 1426.4L179.3 1432.8L172.9 1426.4ZM186.3 1424.4L192.7 1430.8L186.3 1437.2L179.9 1430.8ZM193.6 1418.3L200 1424.7L193.6 1431.1L187.2 1424.7ZM203.8 1425.4L210.2 1431.8L203.8 1438.2L197.4 1431.8ZM212 1421.5L218.4 1427.9L212 1434.3L205.6 1427.9ZM227.5 1423.3L233.9 1429.7L227.5 1436.1L221.1 1429.7ZM236.9 1418.1L243.3 1424.5L236.9 1430.9L230.5 1424.5ZM246.8 1425.1L253.2 1431.5L246.8 1437.9L240.4 1431.5ZM247.2 1432.9L253.6 1439.3L247.2 1445.7L240.8 1439.3ZM249.1 1441.6L255.5 1448L249.1 1454.4L242.7 1448ZM259.1 1440L265.5 1446.4L259.1 1452.8L252.7 1446.4ZM264.3 1442.2L270.7 1448.6L264.3 1455L257.9 1448.6ZM277.7 1451.3L284.1 1457.7L277.7 1464.1L271.3 1457.7ZM274.7 1458.3L281.1 1464.7L274.7 1471.1L268.3 1464.7ZM272.5 1466L278.9 1472.4L272.5 1478.8L266.1 1472.4ZM277.4 1467.9L283.8 1474.3L277.4 1480.7L271 1474.3ZM272.8 1481.3L279.2 1487.7L272.8 1494.1L266.4 1487.7ZM276.5 1491.4L282.9 1497.8L276.5 1504.2L270.1 1497.8ZM272.2 1498.3L278.6 1504.7L272.2 1511.1L265.8 1504.7ZM266.5 1501.7L272.9 1508.1L266.5 1514.5L260.1 1508.1ZM272.3 1510.2L278.7 1516.6L272.3 1523L265.9 1516.6ZM277.6 1513.9L284 1520.3L277.6 1526.7L271.2 1520.3ZM272.9 1520.4L279.3 1526.8L272.9 1533.2L266.5 1526.8ZM264.8 1521.4L271.2 1527.8L264.8 1534.2L258.4 1527.8ZM254.1 1518.9L260.5 1525.3L254.1 1531.7L247.7 1525.3ZM251.4 1535.6L257.8 1542L251.4 1548.4L245 1542ZM244.4 1545.8L250.8 1552.2L244.4 1558.6L238 1552.2ZM237.6 1545.8L244 1552.2L237.6 1558.6L231.2 1552.2ZM208.7 1395.2L215.1 1401.6L208.7 1408L202.3 1401.6ZM221.2 1405.5L227.6 1411.9L221.2 1418.3L214.8 1411.9ZM207 1394.7L213.4 1401.1L207 1407.5L200.6 1401.1ZM158.7 1408.3L165.1 1414.7L158.7 1421.1L152.3 1414.7ZM208.3 1399.2L214.7 1405.6L208.3 1412L201.9 1405.6ZM140.1 1424.8L146.5 1431.2L140.1 1437.6L133.7 1431.2ZM242.6 1407.2L249 1413.6L242.6 1420L236.2 1413.6ZM190.2 1412.3L196.6 1418.7L190.2 1425.1L183.8 1418.7ZM455.9 1037.7L462.3 1044.1L455.9 1050.5L449.5 1044.1ZM371.2 1273.8L377.6 1280.2L371.2 1286.6L364.8 1280.2ZM302.7 1322.5L309.1 1328.9L302.7 1335.3L296.3 1328.9ZM342 1362L348.4 1368.4L342 1374.8L335.6 1368.4ZM318.9 1370.9L325.3 1377.3L318.9 1383.7L312.5 1377.3ZM317.1 1392.6L323.5 1399L317.1 1405.4L310.7 1399ZM286.4 1389.1L292.8 1395.5L286.4 1401.9L280 1395.5ZM261.3 1394.6L267.7 1401L261.3 1407.4L254.9 1401ZM241.5 1386.9L247.9 1393.3L241.5 1399.7L235.1 1393.3ZM244.7 1401.6L251.1 1408L244.7 1414.4L238.3 1408ZM221.4 1376.1L227.8 1382.5L221.4 1388.9L215 1382.5ZM207 1387.2L213.4 1393.6L207 1400L200.6 1393.6ZM241.3 1387.2L247.7 1393.6L241.3 1400L234.9 1393.6ZM260.9 1394.4L267.3 1400.8L260.9 1407.2L254.5 1400.8ZM313.6 1421.2L320 1427.6L313.6 1434L307.2 1427.6ZM280.8 1412.1L287.2 1418.5L280.8 1424.9L274.4 1418.5ZM288.3 1422.9L294.7 1429.3L288.3 1435.7L281.9 1429.3ZM282.5 1432.5L288.9 1438.9L282.5 1445.3L276.1 1438.9ZM269.2 1421.2L275.6 1427.6L269.2 1434L262.8 1427.6ZM262.6 1417.9L269 1424.3L262.6 1430.7L256.2 1424.3ZM253.4 1413.8L259.8 1420.2L253.4 1426.6L247 1420.2ZM302.4 1435.3L308.8 1441.7L302.4 1448.1L296 1441.7ZM274.2 1432.9L280.6 1439.3L274.2 1445.7L267.8 1439.3ZM183.8 1390.6L190.2 1397L183.8 1403.4L177.4 1397ZM173.8 1392.2L180.2 1398.6L173.8 1405L167.4 1398.6ZM196.2 1389.7L202.6 1396.1L196.2 1402.5L189.8 1396.1ZM153.9 1405.5L160.3 1411.9L153.9 1418.3L147.5 1411.9ZM142.3 1407.1L148.7 1413.5L142.3 1419.9L135.9 1413.5ZM145.7 1414.6L152.1 1421L145.7 1427.4L139.3 1421ZM221.4 1401.3L227.8 1407.7L221.4 1414.1L215 1407.7ZM245.2 1401.7L251.6 1408.1L245.2 1414.5L238.8 1408.1ZM239.4 1405.5L245.8 1411.9L239.4 1418.3L233 1411.9ZM141.5 1406.8L147.9 1413.2L141.5 1419.6L135.1 1413.2ZM149.8 1405.1L156.2 1411.5L149.8 1417.9L143.4 1411.5ZM173 1391.8L179.4 1398.2L173 1404.6L166.6 1398.2ZM182.9 1390.2L189.3 1396.6L182.9 1403L176.5 1396.6ZM196.2 1390.2L202.6 1396.6L196.2 1403L189.8 1396.6ZM206.1 1386.9L212.5 1393.3L206.1 1399.7L199.7 1393.3ZM221.1 1376.9L227.5 1383.3L221.1 1389.7L214.7 1383.3ZM241 1386.9L247.4 1393.3L241 1399.7L234.6 1393.3ZM260.9 1393.5L267.3 1399.9L260.9 1406.3L254.5 1399.9ZM285.7 1388.5L292.1 1394.9L285.7 1401.3L279.3 1394.9ZM173 1403.5L179.4 1409.9L173 1416.3L166.6 1409.9ZM192.9 1411.7L199.3 1418.1L192.9 1424.5L186.5 1418.1ZM199.5 1401.8L205.9 1408.2L199.5 1414.6L193.1 1408.2ZM219.4 1408.4L225.8 1414.8L219.4 1421.2L213 1414.8ZM222.7 1400.1L229.1 1406.5L222.7 1412.9L216.3 1406.5ZM242.6 1403.5L249 1409.9L242.6 1416.3L236.2 1409.9ZM252.6 1415.1L259 1421.5L252.6 1427.9L246.2 1421.5ZM265.8 1418.4L272.2 1424.8L265.8 1431.2L259.4 1424.8ZM272.5 1421.7L278.9 1428.1L272.5 1434.5L266.1 1428.1ZM280.8 1411.7L287.2 1418.1L280.8 1424.5L274.4 1418.1ZM289.1 1423.4L295.5 1429.8L289.1 1436.2L282.7 1429.8ZM312.3 1421.7L318.7 1428.1L312.3 1434.5L305.9 1428.1ZM317.2 1391.8L323.6 1398.2L317.2 1404.6L310.8 1398.2ZM282.4 1431.6L288.8 1438L282.4 1444.4L276 1438ZM274.1 1435L280.5 1441.4L274.1 1447.8L267.7 1441.4ZM299 1436.6L305.4 1443L299 1449.4L292.6 1443ZM307.3 1443.3L313.7 1449.7L307.3 1456.1L300.9 1449.7ZM315.6 1454.9L322 1461.3L315.6 1467.7L309.2 1461.3ZM312.3 1459.8L318.7 1466.2L312.3 1472.6L305.9 1466.2ZM292.4 1476.4L298.8 1482.8L292.4 1489.2L286 1482.8ZM299 1486.4L305.4 1492.8L299 1499.2L292.6 1492.8ZM320.6 1491.3L327 1497.7L320.6 1504.1L314.2 1497.7ZM297.3 1504.6L303.7 1511L297.3 1517.4L290.9 1511ZM343.8 1522.9L350.2 1529.3L343.8 1535.7L337.4 1529.3ZM285.7 1489.7L292.1 1496.1L285.7 1502.5L279.3 1496.1ZM282.4 1499.6L288.8 1506L282.4 1512.4L276 1506ZM282.4 1531.1L288.8 1537.5L282.4 1543.9L276 1537.5ZM275.8 1544.4L282.2 1550.8L275.8 1557.2L269.4 1550.8ZM264.2 1542.8L270.6 1549.2L264.2 1555.6L257.8 1549.2ZM259.2 1544.4L265.6 1550.8L259.2 1557.2L252.8 1550.8ZM267.5 1519.5L273.9 1525.9L267.5 1532.3L261.1 1525.9ZM146.4 1415.1L152.8 1421.5L146.4 1427.9L140 1421.5ZM138.1 1428.3L144.5 1434.7L138.1 1441.1L131.7 1434.7ZM179.6 1415.1L186 1421.5L179.6 1427.9L173.2 1421.5ZM207.8 1415.1L214.2 1421.5L207.8 1427.9L201.4 1421.5ZM236 1405.1L242.4 1411.5L236 1417.9L229.6 1411.5ZM245.9 1401.8L252.3 1408.2L245.9 1414.6L239.5 1408.2ZM265.8 1428.3L272.2 1434.7L265.8 1441.1L259.4 1434.7ZM279.1 1456.5L285.5 1462.9L279.1 1469.3L272.7 1462.9ZM285.7 1466.5L292.1 1472.9L285.7 1479.3L279.3 1472.9ZM275.8 1473.1L282.2 1479.5L275.8 1485.9L269.4 1479.5ZM280.8 1481.4L287.2 1487.8L280.8 1494.2L274.4 1487.8ZM287.4 1522.9L293.8 1529.3L287.4 1535.7L281 1529.3ZM279.1 1536.1L285.5 1542.5L279.1 1548.9L272.7 1542.5ZM310.7 1445.4L317.1 1451.8L310.7 1458.2L304.3 1451.8ZM318.8 1455.2L325.2 1461.6L318.8 1468L312.4 1461.6ZM311.6 1459.7L318 1466.1L311.6 1472.5L305.2 1466.1ZM292 1476.6L298.4 1483L292 1489.4L285.6 1483ZM294.6 1439.1L301 1445.5L294.6 1451.9L288.2 1445.5ZM269.6 1435.6L276 1442L269.6 1448.4L263.2 1442ZM253.6 1413.2L260 1419.6L253.6 1426L247.2 1419.6ZM262.5 1418.6L268.9 1425L262.5 1431.4L256.1 1425ZM273.2 1422.2L279.6 1428.6L273.2 1435L266.8 1428.6ZM123.2 1448.1L129.6 1454.5L123.2 1460.9L116.8 1454.5ZM137.5 1428.4L143.9 1434.8L137.5 1441.2L131.1 1434.8Z" fill="#3c68c0"/>
<line x1="114.3" y1="1560.5" x2="658" y2="1108.7" stroke="#3a3a3a" stroke-width="1.9" stroke-dasharray="7 5.8"/>
<text x="305" y="1025.3" font-size="28.7" fill="#000" text-anchor="middle" font-weight="bold">Positive selection</text>
<text x="304.6" y="1059.3" font-size="28.7" fill="#000" text-anchor="middle" font-weight="bold">analysis</text>
<text x="447.8" y="1634.6" font-size="29" fill="#000" text-anchor="middle" stroke="#000" stroke-width="0.35">-Log10 positive RRA (Screen-1)</text>
<text transform="translate(59.8 1278.5) rotate(-90)" font-size="29" text-anchor="middle" stroke="#000" stroke-width="0.35">-Log10 positive RRA (Screen-2)</text>
<text x="493.6" y="1052.1" font-size="19" fill="#7a0000" stroke="#7a0000" stroke-width="0.35">PMAIP1</text>
<text x="378.5" y="1290.6" font-size="19" fill="#7a0000" stroke="#7a0000" stroke-width="0.35">MYC</text>
<text x="244.9" y="1319.7" font-size="19" fill="#7a0000" stroke="#7a0000" stroke-width="0.35">KIAA0141</text>
<text x="365.5" y="1384.4" font-size="19" fill="#7a0000" stroke="#7a0000" stroke-width="0.35">MSL2</text>
<text x="331.2" y="1407.7" font-size="19" fill="#7a0000" stroke="#7a0000" stroke-width="0.35">OTOA</text>
<line x1="128.7" y1="1797.8" x2="128.7" y2="2383.8" stroke="#000" stroke-width="2"/>
<line x1="127.7" y1="2382.8" x2="780" y2="2382.8" stroke="#000" stroke-width="2"/>
<line x1="121.5" y1="2382.8" x2="128.7" y2="2382.8" stroke="#000" stroke-width="2"/>
<text x="111.8" y="2390" font-size="20" fill="#000" text-anchor="end" font-weight="bold">0</text>
<line x1="121.5" y1="2317.8" x2="128.7" y2="2317.8" stroke="#000" stroke-width="2"/>
<text x="111.8" y="2325" font-size="20" fill="#000" text-anchor="end" font-weight="bold">1</text>
<line x1="121.5" y1="2252.8" x2="128.7" y2="2252.8" stroke="#000" stroke-width="2"/>
<text x="111.8" y="2260" font-size="20" fill="#000" text-anchor="end" font-weight="bold">2</text>
<line x1="121.5" y1="2187.8" x2="128.7" y2="2187.8" stroke="#000" stroke-width="2"/>
<text x="111.8" y="2195" font-size="20" fill="#000" text-anchor="end" font-weight="bold">3</text>
<line x1="121.5" y1="2122.8" x2="128.7" y2="2122.8" stroke="#000" stroke-width="2"/>
<text x="111.8" y="2130" font-size="20" fill="#000" text-anchor="end" font-weight="bold">4</text>
<line x1="121.5" y1="2057.8" x2="128.7" y2="2057.8" stroke="#000" stroke-width="2"/>
<text x="111.8" y="2065" font-size="20" fill="#000" text-anchor="end" font-weight="bold">5</text>
<line x1="121.5" y1="1992.8" x2="128.7" y2="1992.8" stroke="#000" stroke-width="2"/>
<text x="111.8" y="2000" font-size="20" fill="#000" text-anchor="end" font-weight="bold">6</text>
<line x1="121.5" y1="1927.8" x2="128.7" y2="1927.8" stroke="#000" stroke-width="2"/>
<text x="111.8" y="1935" font-size="20" fill="#000" text-anchor="end" font-weight="bold">7</text>
<line x1="121.5" y1="1862.8" x2="128.7" y2="1862.8" stroke="#000" stroke-width="2"/>
<text x="111.8" y="1870" font-size="20" fill="#000" text-anchor="end" font-weight="bold">8</text>
<line x1="121.5" y1="1797.8" x2="128.7" y2="1797.8" stroke="#000" stroke-width="2"/>
<text x="111.8" y="1805" font-size="20" fill="#000" text-anchor="end" font-weight="bold">9</text>
<line x1="128.5" y1="2382.8" x2="128.5" y2="2389.5" stroke="#000" stroke-width="2"/>
<text x="128.5" y="2413" font-size="20" fill="#000" text-anchor="middle" font-weight="bold">0</text>
<line x1="258.6" y1="2382.8" x2="258.6" y2="2389.5" stroke="#000" stroke-width="2"/>
<text x="258.6" y="2413" font-size="20" fill="#000" text-anchor="middle" font-weight="bold">2</text>
<line x1="388.7" y1="2382.8" x2="388.7" y2="2389.5" stroke="#000" stroke-width="2"/>
<text x="388.7" y="2413" font-size="20" fill="#000" text-anchor="middle" font-weight="bold">4</text>
<line x1="518.8" y1="2382.8" x2="518.8" y2="2389.5" stroke="#000" stroke-width="2"/>
<text x="518.8" y="2413" font-size="20" fill="#000" text-anchor="middle" font-weight="bold">6</text>
<line x1="648.9" y1="2382.8" x2="648.9" y2="2389.5" stroke="#000" stroke-width="2"/>
<text x="648.9" y="2413" font-size="20" fill="#000" text-anchor="middle" font-weight="bold">8</text>
<line x1="779" y1="2382.8" x2="779" y2="2389.5" stroke="#000" stroke-width="2"/>
<text x="775" y="2413" font-size="20" fill="#000" text-anchor="middle" font-weight="bold">10</text>
<path d="M123 2388L123 2320L124.2 2258L130 2240L136 2236L150 2232L158 2222L178 2214L190 2210L205 2206L215 2196L225 2192L235 2196L245 2204L255 2204L265 2200L278 2203L290 2200L302 2210L318 2218L318 2234L315 2251L310.6 2262.7L299 2281.6L296.4 2305L303.5 2319L294 2340.6L275.2 2364.2L263.4 2376L251.6 2384L240 2388Z" fill="#3c68c0"/>
<path d="M129 2252.6L135.4 2259L129 2265.4L122.6 2259ZM129 2244.4L135.4 2250.8L129 2257.2L122.6 2250.8ZM131 2235.3L137.4 2241.7L131 2248.1L124.6 2241.7ZM134.1 2229.5L140.5 2235.9L134.1 2242.3L127.7 2235.9ZM144.8 2228.2L151.2 2234.6L144.8 2241L138.4 2234.6ZM151.6 2224.1L158 2230.5L151.6 2236.9L145.2 2230.5ZM157.9 2214.6L164.3 2221L157.9 2227.4L151.5 2221ZM164.8 2213.2L171.2 2219.6L164.8 2226L158.4 2219.6ZM169.4 2209.1L175.8 2215.5L169.4 2221.9L163 2215.5ZM177.1 2209.3L183.5 2215.7L177.1 2222.1L170.7 2215.7ZM191.1 2202.2L197.5 2208.6L191.1 2215L184.7 2208.6ZM198.7 2200.2L205.1 2206.6L198.7 2213L192.3 2206.6ZM205.5 2198.1L211.9 2204.5L205.5 2210.9L199.1 2204.5ZM208 2196.1L214.4 2202.5L208 2208.9L201.6 2202.5ZM213.8 2188.5L220.2 2194.9L213.8 2201.3L207.4 2194.9ZM226.9 2187.1L233.3 2193.5L226.9 2199.9L220.5 2193.5ZM234.2 2191.4L240.6 2197.8L234.2 2204.2L227.8 2197.8ZM245.2 2198.3L251.6 2204.7L245.2 2211.1L238.8 2204.7ZM253.8 2199.4L260.2 2205.8L253.8 2212.2L247.4 2205.8ZM265.8 2195.5L272.2 2201.9L265.8 2208.3L259.4 2201.9ZM279.6 2195.8L286 2202.2L279.6 2208.6L273.2 2202.2ZM289.4 2192.3L295.8 2198.7L289.4 2205.1L283 2198.7ZM294.6 2196.9L301 2203.3L294.6 2209.7L288.2 2203.3ZM301.2 2204L307.6 2210.4L301.2 2216.8L294.8 2210.4ZM308 2208.3L314.4 2214.7L308 2221.1L301.6 2214.7ZM317.4 2210.8L323.8 2217.2L317.4 2223.6L311 2217.2ZM319.3 2219.5L325.7 2225.9L319.3 2232.3L312.9 2225.9ZM317.3 2227.5L323.7 2233.9L317.3 2240.3L310.9 2233.9ZM317.3 2234.3L323.7 2240.7L317.3 2247.1L310.9 2240.7ZM316.9 2242.7L323.3 2249.1L316.9 2255.5L310.5 2249.1ZM311.6 2257.7L318 2264.1L311.6 2270.5L305.2 2264.1ZM304.8 2263.8L311.2 2270.2L304.8 2276.6L298.4 2270.2ZM302.3 2269.2L308.7 2275.6L302.3 2282L295.9 2275.6ZM297 2273.4L303.4 2279.8L297 2286.2L290.6 2279.8ZM296.9 2284.8L303.3 2291.2L296.9 2297.6L290.5 2291.2ZM296.1 2291.8L302.5 2298.2L296.1 2304.6L289.7 2298.2ZM298.1 2300.4L304.5 2306.8L298.1 2313.2L291.7 2306.8ZM299.3 2305L305.7 2311.4L299.3 2317.8L292.9 2311.4ZM303.6 2313.7L310 2320.1L303.6 2326.5L297.2 2320.1ZM298.8 2320.8L305.2 2327.2L298.8 2333.6L292.4 2327.2ZM298.4 2328.4L304.8 2334.8L298.4 2341.2L292 2334.8ZM292.1 2336L298.5 2342.4L292.1 2348.8L285.7 2342.4ZM287.7 2339.5L294.1 2345.9L287.7 2352.3L281.3 2345.9ZM285 2347.7L291.4 2354.1L285 2360.5L278.6 2354.1ZM279.3 2353.6L285.7 2360L279.3 2366.4L272.9 2360ZM275.4 2357L281.8 2363.4L275.4 2369.8L269 2363.4ZM268.6 2362.4L275 2368.8L268.6 2375.2L262.2 2368.8ZM261.7 2368.2L268.1 2374.6L261.7 2381L255.3 2374.6ZM258.3 2375.6L264.7 2382L258.3 2388.4L251.9 2382ZM250.2 2375.8L256.6 2382.2L250.2 2388.6L243.8 2382.2ZM232 2150.5L238.4 2156.9L232 2163.3L225.6 2156.9ZM242 2166.7L248.4 2173.1L242 2179.5L235.6 2173.1ZM161.3 2210.2L167.7 2216.6L161.3 2223L154.9 2216.6ZM319.4 2141.1L325.8 2147.5L319.4 2153.9L313 2147.5ZM180.1 2203.9L186.5 2210.3L180.1 2216.7L173.7 2210.3ZM209.6 2169.5L216 2175.9L209.6 2182.3L203.2 2175.9ZM347.2 2169.5L353.6 2175.9L347.2 2182.3L340.8 2175.9ZM248.6 2193.8L255 2200.2L248.6 2206.6L242.2 2200.2ZM246.8 2155.2L253.2 2161.6L246.8 2168L240.4 2161.6ZM250.9 2159.4L257.3 2165.8L250.9 2172.2L244.5 2165.8ZM308 2205.9L314.4 2212.3L308 2218.7L301.6 2212.3ZM306.5 2190.7L312.9 2197.1L306.5 2203.5L300.1 2197.1ZM284.1 2196.4L290.5 2202.8L284.1 2209.2L277.7 2202.8ZM206.7 2172.3L213.1 2178.7L206.7 2185.1L200.3 2178.7ZM305.5 2190.4L311.9 2196.8L305.5 2203.2L299.1 2196.8ZM281.2 2180.7L287.6 2187.1L281.2 2193.5L274.8 2187.1ZM200.6 2188.7L207 2195.1L200.6 2201.5L194.2 2195.1ZM220.3 2186.3L226.7 2192.7L220.3 2199.1L213.9 2192.7ZM299 2202.5L305.4 2208.9L299 2215.3L292.6 2208.9ZM325.7 2190.2L332.1 2196.6L325.7 2203L319.3 2196.6ZM254.7 2176.2L261.1 2182.6L254.7 2189L248.3 2182.6ZM183.6 2203.2L190 2209.6L183.6 2216L177.2 2209.6ZM339.4 2171.6L345.8 2178L339.4 2184.4L333 2178ZM289.7 2192.9L296.1 2199.3L289.7 2205.7L283.3 2199.3ZM297.5 2144.7L303.9 2151.1L297.5 2157.5L291.1 2151.1ZM307.6 2180.7L314 2187.1L307.6 2193.5L301.2 2187.1ZM284.4 2166.6L290.8 2173L284.4 2179.4L278 2173ZM278.6 2193L285 2199.4L278.6 2205.8L272.2 2199.4ZM239.1 2186.8L245.5 2193.2L239.1 2199.6L232.7 2193.2ZM194.2 2190L200.6 2196.4L194.2 2202.8L187.8 2196.4ZM277.4 2133.3L283.8 2139.7L277.4 2146.1L271 2139.7ZM245.3 2149.5L251.7 2155.9L245.3 2162.3L238.9 2155.9ZM244 2163.1L250.4 2169.5L244 2175.9L237.6 2169.5ZM273.6 2181.5L280 2187.9L273.6 2194.3L267.2 2187.9ZM173.2 2202.8L179.6 2209.2L173.2 2215.6L166.8 2209.2ZM273.9 2137.9L280.3 2144.3L273.9 2150.7L267.5 2144.3ZM260.1 2159.5L266.5 2165.9L260.1 2172.3L253.7 2165.9ZM315.3 2166.5L321.7 2172.9L315.3 2179.3L308.9 2172.9ZM314.2 2186.1L320.6 2192.5L314.2 2198.9L307.8 2192.5ZM270.4 2179.2L276.8 2185.6L270.4 2192L264 2185.6ZM272.9 2160.5L279.3 2166.9L272.9 2173.3L266.5 2166.9ZM274.3 2142L280.7 2148.4L274.3 2154.8L267.9 2148.4ZM225.9 2167.6L232.3 2174L225.9 2180.4L219.5 2174ZM346.4 2163L352.8 2169.4L346.4 2175.8L340 2169.4ZM270.4 2152.5L276.8 2158.9L270.4 2165.3L264 2158.9ZM233.9 2157.7L240.3 2164.1L233.9 2170.5L227.5 2164.1ZM207.9 2171.6L214.3 2178L207.9 2184.4L201.5 2178ZM239.6 2155.4L246 2161.8L239.6 2168.2L233.2 2161.8ZM307.9 2202.4L314.3 2208.8L307.9 2215.2L301.5 2208.8ZM307.9 2151.2L314.3 2157.6L307.9 2164L301.5 2157.6ZM349.7 2155.4L356.1 2161.8L349.7 2168.2L343.3 2161.8ZM272.8 2171.4L279.2 2177.8L272.8 2184.2L266.4 2177.8ZM280.3 2182.7L286.7 2189.1L280.3 2195.5L273.9 2189.1ZM300.2 2140L306.6 2146.4L300.2 2152.8L293.8 2146.4ZM303.6 2156.1L310 2162.5L303.6 2168.9L297.2 2162.5ZM257.8 2159.2L264.2 2165.6L257.8 2172L251.4 2165.6ZM210 2176.2L216.4 2182.6L210 2189L203.6 2182.6ZM243.8 2161.4L250.2 2167.8L243.8 2174.2L237.4 2167.8ZM300.5 2181.6L306.9 2188L300.5 2194.4L294.1 2188ZM329.4 2177.6L335.8 2184L329.4 2190.4L323 2184ZM236.4 2180.3L242.8 2186.7L236.4 2193.1L230 2186.7ZM293.1 2185.2L299.5 2191.6L293.1 2198L286.7 2191.6ZM227.9 2164.1L234.3 2170.5L227.9 2176.9L221.5 2170.5ZM322.1 2146.9L328.5 2153.3L322.1 2159.7L315.7 2153.3ZM163.3 2203.2L169.7 2209.6L163.3 2216L156.9 2209.6ZM290.3 2167.7L296.7 2174.1L290.3 2180.5L283.9 2174.1ZM334 2142.2L340.4 2148.6L334 2155L327.6 2148.6ZM246.6 2177.9L253 2184.3L246.6 2190.7L240.2 2184.3ZM250.5 2158.7L256.9 2165.1L250.5 2171.5L244.1 2165.1ZM314 2135.6L320.4 2142L314 2148.4L307.6 2142ZM662.2 1834.9L668.6 1841.3L662.2 1847.7L655.8 1841.3ZM278 1987.8L284.4 1994.2L278 2000.6L271.6 1994.2ZM292.4 1991.4L298.8 1997.8L292.4 2004.2L286 1997.8ZM303.5 1989.7L309.9 1996.1L303.5 2002.5L297.1 1996.1ZM363 2016.8L369.4 2023.2L363 2029.6L356.6 2023.2ZM424.3 2016.8L430.7 2023.2L424.3 2029.6L417.9 2023.2ZM426.2 1983.8L432.6 1990.2L426.2 1996.6L419.8 1990.2ZM424.3 1991.4L430.7 1997.8L424.3 2004.2L417.9 1997.8ZM476.7 2009.6L483.1 2016L476.7 2022.4L470.3 2016ZM251.6 2042.1L258 2048.5L251.6 2054.9L245.2 2048.5ZM256.3 2046.8L262.7 2053.2L256.3 2059.6L249.9 2053.2ZM312.5 2042.1L318.9 2048.5L312.5 2054.9L306.1 2048.5ZM362.5 2044.4L368.9 2050.8L362.5 2057.2L356.1 2050.8ZM321.7 2058.1L328.1 2064.5L321.7 2070.9L315.3 2064.5ZM431.6 2052.9L438 2059.3L431.6 2065.7L425.2 2059.3ZM448 2054.6L454.4 2061L448 2067.4L441.6 2061ZM380.9 2065.7L387.3 2072.1L380.9 2078.5L374.5 2072.1ZM440.5 2083.9L446.9 2090.3L440.5 2096.7L434.1 2090.3ZM274.5 2074.4L280.9 2080.8L274.5 2087.2L268.1 2080.8ZM289.3 2070.9L295.7 2077.3L289.3 2083.7L282.9 2077.3ZM304.9 2078L311.3 2084.4L304.9 2090.8L298.5 2084.4ZM270.5 2088.8L276.9 2095.2L270.5 2101.6L264.1 2095.2ZM195.4 2094.5L201.8 2100.9L195.4 2107.3L189 2100.9ZM225.6 2099.9L232 2106.3L225.6 2112.7L219.2 2106.3ZM242.1 2107L248.5 2113.4L242.1 2119.8L235.7 2113.4ZM289.3 2103.4L295.7 2109.8L289.3 2116.2L282.9 2109.8ZM267.6 2115.9L274 2122.3L267.6 2128.7L261.2 2122.3ZM357.3 2115.9L363.7 2122.3L357.3 2128.7L350.9 2122.3ZM390.3 2117.6L396.7 2124L390.3 2130.4L383.9 2124ZM406.8 2108.6L413.2 2115L406.8 2121.4L400.4 2115ZM200.8 2127L207.2 2133.4L200.8 2139.8L194.4 2133.4ZM215 2129.4L221.4 2135.8L215 2142.2L208.6 2135.8ZM219.7 2134.1L226.1 2140.5L219.7 2146.9L213.3 2140.5ZM193.1 2148.3L199.5 2154.7L193.1 2161.1L186.7 2154.7ZM248.7 2129.4L255.1 2135.8L248.7 2142.2L242.3 2135.8ZM324.7 2121.1L331.1 2127.5L324.7 2133.9L318.3 2127.5ZM334.2 2134.1L340.6 2140.5L334.2 2146.9L327.8 2140.5ZM348.3 2142.4L354.7 2148.8L348.3 2155.2L341.9 2148.8ZM375.5 2148.3L381.9 2154.7L375.5 2161.1L369.1 2154.7ZM421 2158.9L427.4 2165.3L421 2171.7L414.6 2165.3ZM317.6 2142.4L324 2148.8L317.6 2155.2L311.2 2148.8ZM305.8 2148.3L312.2 2154.7L305.8 2161.1L299.4 2154.7ZM139.5 2173.8L145.9 2180.2L139.5 2186.6L133.1 2180.2ZM159.1 2174.9L165.5 2181.3L159.1 2187.7L152.7 2181.3ZM170.2 2172.5L176.6 2178.9L170.2 2185.3L163.8 2178.9ZM178.4 2174.9L184.8 2181.3L178.4 2187.7L172 2181.3ZM172.5 2179.6L178.9 2186L172.5 2192.4L166.1 2186ZM145.4 2196.8L151.8 2203.2L145.4 2209.6L139 2203.2ZM166.6 2194.5L173 2200.9L166.6 2207.3L160.2 2200.9ZM173.7 2197.3L180.1 2203.7L173.7 2210.1L167.3 2203.7ZM192.6 2147.8L199 2154.2L192.6 2160.6L186.2 2154.2ZM197.3 2169L203.7 2175.4L197.3 2181.8L190.9 2175.4ZM187.9 2180.8L194.3 2187.2L187.9 2193.6L181.5 2187.2ZM183.1 2187.9L189.5 2194.3L183.1 2200.7L176.7 2194.3ZM132.4 2216.2L138.8 2222.6L132.4 2229L126 2222.6ZM143 2218.6L149.4 2225L143 2231.4L136.6 2225ZM154.8 2209.1L161.2 2215.5L154.8 2221.9L148.4 2215.5ZM160.7 2205.6L167.1 2212L160.7 2218.4L154.3 2212ZM220.9 2134.8L227.3 2141.2L220.9 2147.6L214.5 2141.2ZM225.6 2152.5L232 2158.9L225.6 2165.3L219.2 2158.9ZM218.5 2166.6L224.9 2173L218.5 2179.4L212.1 2173ZM211.5 2169L217.9 2175.4L211.5 2181.8L205.1 2175.4ZM239.8 2143L246.2 2149.4L239.8 2155.8L233.4 2149.4ZM251.6 2140.7L258 2147.1L251.6 2153.5L245.2 2147.1ZM261 2136L267.4 2142.4L261 2148.8L254.6 2142.4ZM272.8 2143L279.2 2149.4L272.8 2155.8L266.4 2149.4ZM279.9 2147.8L286.3 2154.2L279.9 2160.6L273.5 2154.2ZM239.8 2152.5L246.2 2158.9L239.8 2165.3L233.4 2158.9ZM246.9 2161.9L253.3 2168.3L246.9 2174.7L240.5 2168.3ZM263.4 2153.7L269.8 2160.1L263.4 2166.5L257 2160.1ZM275.2 2157.2L281.6 2163.6L275.2 2170L268.8 2163.6ZM284.6 2152.5L291 2158.9L284.6 2165.3L278.2 2158.9ZM294 2138.3L300.4 2144.7L294 2151.1L287.6 2144.7ZM308.2 2133.6L314.6 2140L308.2 2146.4L301.8 2140ZM317.6 2143L324 2149.4L317.6 2155.8L311.2 2149.4ZM331.8 2136L338.2 2142.4L331.8 2148.8L325.4 2142.4ZM348.3 2143L354.7 2149.4L348.3 2155.8L341.9 2149.4ZM303.5 2147.8L309.9 2154.2L303.5 2160.6L297.1 2154.2ZM312.9 2166.6L319.3 2173L312.9 2179.4L306.5 2173ZM322.4 2164.3L328.8 2170.7L322.4 2177.1L316 2170.7ZM331.8 2171.4L338.2 2177.8L331.8 2184.2L325.4 2177.8ZM338.9 2166.6L345.3 2173L338.9 2179.4L332.5 2173ZM343.6 2176.1L350 2182.5L343.6 2188.9L337.2 2182.5ZM355.4 2178.4L361.8 2184.8L355.4 2191.2L349 2184.8ZM364.8 2164.3L371.2 2170.7L364.8 2177.1L358.4 2170.7ZM375.5 2147.8L381.9 2154.2L375.5 2160.6L369.1 2154.2ZM374.3 2157.2L380.7 2163.6L374.3 2170L367.9 2163.6ZM383.7 2164.3L390.1 2170.7L383.7 2177.1L377.3 2170.7ZM386.1 2177.3L392.5 2183.7L386.1 2190.1L379.7 2183.7ZM395.5 2187.9L401.9 2194.3L395.5 2200.7L389.1 2194.3ZM420.3 2158.4L426.7 2164.8L420.3 2171.2L413.9 2164.8ZM436.8 2203.9L443.2 2210.3L436.8 2216.7L430.4 2210.3ZM334.2 2190.2L340.6 2196.6L334.2 2203L327.8 2196.6ZM350.7 2192.6L357.1 2199L350.7 2205.4L344.3 2199ZM355.4 2199.7L361.8 2206.1L355.4 2212.5L349 2206.1ZM336.5 2204.4L342.9 2210.8L336.5 2217.2L330.1 2210.8ZM386.1 2220.9L392.5 2227.3L386.1 2233.7L379.7 2227.3ZM406.1 2222.1L412.5 2228.5L406.1 2234.9L399.7 2228.5ZM367.2 2223.3L373.6 2229.7L367.2 2236.1L360.8 2229.7ZM375.5 2226.8L381.9 2233.2L375.5 2239.6L369.1 2233.2ZM369.6 2236.2L376 2242.6L369.6 2249L363.2 2242.6ZM377.8 2248L384.2 2254.4L377.8 2260.8L371.4 2254.4ZM355.4 2228L361.8 2234.4L355.4 2240.8L349 2234.4ZM327.1 2237.4L333.5 2243.8L327.1 2250.2L320.7 2243.8ZM336.5 2246.9L342.9 2253.3L336.5 2259.7L330.1 2253.3ZM348.3 2253.9L354.7 2260.3L348.3 2266.7L341.9 2260.3ZM357.8 2258.7L364.2 2265.1L357.8 2271.5L351.4 2265.1ZM361.3 2265.7L367.7 2272.1L361.3 2278.5L354.9 2272.1ZM336.5 2265.7L342.9 2272.1L336.5 2278.5L330.1 2272.1ZM342.4 2282.3L348.8 2288.7L342.4 2295.1L336 2288.7ZM349.5 2279.9L355.9 2286.3L349.5 2292.7L343.1 2286.3ZM358.9 2300L365.3 2306.4L358.9 2312.8L352.5 2306.4ZM347.1 2305.4L353.5 2311.8L347.1 2318.2L340.7 2311.8ZM323.5 2319.5L329.9 2325.9L323.5 2332.3L317.1 2325.9ZM308.2 2322.4L314.6 2328.8L308.2 2335.2L301.8 2328.8ZM307 2307L313.4 2313.4L307 2319.8L300.6 2313.4ZM301.1 2342.4L307.5 2348.8L301.1 2355.2L294.7 2348.8ZM284.6 2358.9L291 2365.3L284.6 2371.7L278.2 2365.3ZM300 2367.2L306.4 2373.6L300 2380L293.6 2373.6ZM278.7 2362.5L285.1 2368.9L278.7 2375.3L272.3 2368.9ZM275.2 2350.7L281.6 2357.1L275.2 2363.5L268.8 2357.1ZM317.6 2244.5L324 2250.9L317.6 2257.3L311.2 2250.9ZM322.4 2256.3L328.8 2262.7L322.4 2269.1L316 2262.7ZM317.6 2275.2L324 2281.6L317.6 2288L311.2 2281.6ZM303.5 2279.9L309.9 2286.3L303.5 2292.7L297.1 2286.3ZM305.8 2287L312.2 2293.4L305.8 2299.8L299.4 2293.4ZM223.3 2154.2L229.7 2160.6L223.3 2167L216.9 2160.6ZM229.2 2153L235.6 2159.4L229.2 2165.8L222.8 2159.4ZM232.7 2173L239.1 2179.4L232.7 2185.8L226.3 2179.4ZM238.6 2168.3L245 2174.7L238.6 2181.1L232.2 2174.7ZM245.7 2150.6L252.1 2157L245.7 2163.4L239.3 2157ZM252.8 2141.2L259.2 2147.6L252.8 2154L246.4 2147.6ZM265.7 2149.4L272.1 2155.8L265.7 2162.2L259.3 2155.8ZM256.3 2166L262.7 2172.4L256.3 2178.8L249.9 2172.4ZM268.1 2167.1L274.5 2173.5L268.1 2179.9L261.7 2173.5ZM279.9 2163.6L286.3 2170L279.9 2176.4L273.5 2170ZM289.3 2168.3L295.7 2174.7L289.3 2181.1L282.9 2174.7ZM294 2158.9L300.4 2165.3L294 2171.7L287.6 2165.3ZM289.3 2150.6L295.7 2157L289.3 2163.4L282.9 2157ZM298.8 2142.4L305.2 2148.8L298.8 2155.2L292.4 2148.8ZM308.2 2123.5L314.6 2129.9L308.2 2136.3L301.8 2129.9ZM310.6 2130.6L317 2137L310.6 2143.4L304.2 2137ZM305.8 2166L312.2 2172.4L305.8 2178.8L299.4 2172.4ZM317.6 2166L324 2172.4L317.6 2178.8L311.2 2172.4ZM329.4 2161.2L335.8 2167.6L329.4 2174L323 2167.6ZM338.9 2166L345.3 2172.4L338.9 2178.8L332.5 2172.4ZM364.8 2163.6L371.2 2170L364.8 2176.4L358.4 2170ZM376.6 2156.5L383 2162.9L376.6 2169.3L370.2 2162.9ZM384.9 2161.2L391.3 2167.6L384.9 2174L378.5 2167.6ZM386.1 2175.4L392.5 2181.8L386.1 2188.2L379.7 2181.8ZM395.5 2187.2L401.9 2193.6L395.5 2200L389.1 2193.6ZM320 2183.6L326.4 2190L320 2196.4L313.6 2190ZM330 2193.6L336.4 2200L330 2206.4L323.6 2200ZM310 2193.6L316.4 2200L310 2206.4L303.6 2200ZM290 2183.6L296.4 2190L290 2196.4L283.6 2190ZM300 2178.6L306.4 2185L300 2191.4L293.6 2185ZM280 2178.6L286.4 2185L280 2191.4L273.6 2185ZM265 2181.6L271.4 2188L265 2194.4L258.6 2188ZM250 2183.6L256.4 2190L250 2196.4L243.6 2190ZM240 2178.6L246.4 2185L240 2191.4L233.6 2185ZM225 2175.6L231.4 2182L225 2188.4L218.6 2182ZM205 2185.6L211.4 2192L205 2198.4L198.6 2192ZM195 2193.6L201.4 2200L195 2206.4L188.6 2200ZM185 2198.6L191.4 2205L185 2211.4L178.6 2205ZM150 2218.6L156.4 2225L150 2231.4L143.6 2225ZM330 2218.6L336.4 2225L330 2231.4L323.6 2225ZM340 2228.6L346.4 2235L340 2241.4L333.6 2235ZM325 2258.6L331.4 2265L325 2271.4L318.6 2265ZM330 2273.6L336.4 2280L330 2286.4L323.6 2280ZM310 2293.6L316.4 2300L310 2306.4L303.6 2300ZM315 2303.6L321.4 2310L315 2316.4L308.6 2310ZM300 2323.6L306.4 2330L300 2336.4L293.6 2330ZM290 2343.6L296.4 2350L290 2356.4L283.6 2350ZM270 2368.6L276.4 2375L270 2381.4L263.6 2375ZM340 2208.6L346.4 2215L340 2221.4L333.6 2215ZM345 2218.6L351.4 2225L345 2231.4L338.6 2225ZM360 2208.6L366.4 2215L360 2221.4L353.6 2215ZM200 2163.6L206.4 2170L200 2176.4L193.6 2170ZM210 2153.6L216.4 2160L210 2166.4L203.6 2160ZM260 2123.6L266.4 2130L260 2136.4L253.6 2130ZM280 2128.6L286.4 2135L280 2141.4L273.6 2135ZM290 2121.6L296.4 2128L290 2134.4L283.6 2128Z" fill="#3c68c0"/>
<line x1="119.7" y1="2390.8" x2="759.4" y2="1852.5" stroke="#3a3a3a" stroke-width="1.9" stroke-dasharray="7 5.8"/>
<text x="315.3" y="1837.9" font-size="28.7" fill="#000" text-anchor="middle" font-weight="bold">Negative selection</text>
<text x="315.6" y="1872.3" font-size="28.7" fill="#000" text-anchor="middle" font-weight="bold">analysis</text>
<text x="471.6" y="2465.4" font-size="29" fill="#000" text-anchor="middle" stroke="#000" stroke-width="0.35">-Log10 negative RRA (Screen-1)</text>
<text transform="translate(60.9 2085.7) rotate(-90)" font-size="29" text-anchor="middle" stroke="#000" stroke-width="0.35">-Log10 negative RRA (Screen-2)</text>
<text x="591" y="1839" font-size="19.8" fill="#7a0000" stroke="#7a0000" stroke-width="0.35">hsa-mir-4472-2</text>
<text x="426.5" y="1979.7" font-size="19.8" fill="#7a0000" stroke="#7a0000" stroke-width="0.35">WASH1</text>
<text x="429.4" y="2005.3" font-size="19.8" fill="#7a0000" stroke="#7a0000" stroke-width="0.35">hsa-mir-3135b</text>
<text x="461.2" y="2039" font-size="19.8" fill="#7a0000" stroke="#7a0000" stroke-width="0.35">CDC20</text>
<text x="415.1" y="2083.8" font-size="19.8" fill="#7a0000" stroke="#7a0000" stroke-width="0.35">hsa-mir-4454</text>
<rect x="1236" y="1060.1" width="143" height="54.2" fill="#003a70"/>
<rect x="1236" y="1142" width="161" height="54.2" fill="#003a70"/>
<rect x="1236" y="1223.8" width="175.3" height="54.2" fill="#003a70"/>
<rect x="1236" y="1305.8" width="219.9" height="54.2" fill="#003a70"/>
<rect x="1236" y="1387.1" width="291.4" height="54.2" fill="#003a70"/>
<line x1="1233.4" y1="1032.6" x2="1233.4" y2="1471" stroke="#000" stroke-width="6"/>
<line x1="1230.4" y1="1468.9" x2="1617" y2="1468.9" stroke="#000" stroke-width="4.5"/>
<line x1="1233.4" y1="1468" x2="1233.4" y2="1480.2" stroke="#000" stroke-width="5.6"/>
<line x1="1309.3" y1="1468" x2="1309.3" y2="1480.2" stroke="#000" stroke-width="5.6"/>
<text x="1310.8" y="1500.7" font-size="20" fill="#000" text-anchor="middle" font-weight="bold">2</text>
<line x1="1385.5" y1="1468" x2="1385.5" y2="1480.2" stroke="#000" stroke-width="5.6"/>
<text x="1387" y="1500.7" font-size="20" fill="#000" text-anchor="middle" font-weight="bold">4</text>
<line x1="1461.7" y1="1468" x2="1461.7" y2="1480.2" stroke="#000" stroke-width="5.6"/>
<text x="1463.2" y="1500.7" font-size="20" fill="#000" text-anchor="middle" font-weight="bold">6</text>
<line x1="1537.9" y1="1468" x2="1537.9" y2="1480.2" stroke="#000" stroke-width="5.6"/>
<text x="1539.4" y="1500.7" font-size="20" fill="#000" text-anchor="middle" font-weight="bold">8</text>
<line x1="1614.7" y1="1468" x2="1614.7" y2="1480.2" stroke="#000" stroke-width="5.6"/>
<text x="1615.6" y="1500.7" font-size="20" fill="#000" text-anchor="middle" font-weight="bold">10</text>
<text x="1394.4" y="1095.2" font-size="29" fill="#000" stroke="#000" stroke-width="0.35">91</text>
<text x="1412.6" y="1181.3" font-size="29" fill="#000" stroke="#000" stroke-width="0.35">16</text>
<text x="1427.5" y="1258.1" font-size="29" fill="#000" stroke="#000" stroke-width="0.35">36</text>
<text x="1471.5" y="1336.6" font-size="29" fill="#000" stroke="#000" stroke-width="0.35">69</text>
<text x="1539.7" y="1422.2" font-size="29" fill="#000" stroke="#000" stroke-width="0.35">41</text>
<text x="1050" y="1079.3" font-size="29" fill="#000" text-anchor="middle" stroke="#000" stroke-width="0.35">Regulation of RNA</text>
<text x="1050" y="1113.2" font-size="29" fill="#000" text-anchor="middle" stroke="#000" stroke-width="0.35">biosynthetic process</text>
<text x="1050" y="1180.6" font-size="29" fill="#000" text-anchor="middle" stroke="#000" stroke-width="0.35">Regulation of endocytosis</text>
<text x="1050" y="1250.3" font-size="29" fill="#000" text-anchor="middle" stroke="#000" stroke-width="0.35">Regulation of MAPK</text>
<text x="1050" y="1284.2" font-size="29" fill="#000" text-anchor="middle" stroke="#000" stroke-width="0.35">cascade</text>
<text x="1050" y="1331.5" font-size="29" fill="#000" text-anchor="middle" stroke="#000" stroke-width="0.35">Positive regulation of cell</text>
<text x="1050" y="1365.4" font-size="29" fill="#000" text-anchor="middle" stroke="#000" stroke-width="0.35">communication</text>
<text x="1050" y="1413.9" font-size="29" fill="#000" text-anchor="middle" stroke="#000" stroke-width="0.35">Negative regulation of cell</text>
<text x="1050" y="1447.8" font-size="29" fill="#000" text-anchor="middle" stroke="#000" stroke-width="0.35">population proliferation</text>
<text x="1426" y="1546" font-size="29" fill="#000" text-anchor="middle" stroke="#000" stroke-width="0.35">Enrichment score</text>
<text x="1426" y="1579.8" font-size="29" fill="#000" text-anchor="middle" stroke="#000" stroke-width="0.35">(-log (adjusted <tspan font-style="italic">P</tspan> value))</text>
<rect x="1239" y="1787.5" width="63.7" height="49.2" fill="#003a70"/>
<rect x="1239" y="1861.7" width="86.3" height="49.2" fill="#003a70"/>
<rect x="1239" y="1936" width="105" height="49.2" fill="#003a70"/>
<rect x="1239" y="2010.3" width="125.1" height="49.2" fill="#003a70"/>
<rect x="1239" y="2084.4" width="187.7" height="49.2" fill="#003a70"/>
<rect x="1239" y="2158.2" width="236.5" height="49.2" fill="#003a70"/>
<rect x="1239" y="2232.3" width="240.3" height="49.2" fill="#003a70"/>
<rect x="1239" y="2306.7" width="309.4" height="49.2" fill="#003a70"/>
<line x1="1236.7" y1="1762.9" x2="1236.7" y2="2383.5" stroke="#000" stroke-width="6"/>
<line x1="1233.7" y1="2380.3" x2="1651.3" y2="2380.3" stroke="#000" stroke-width="6.4"/>
<line x1="1236.8" y1="2380" x2="1236.8" y2="2396.8" stroke="#000" stroke-width="6.2"/>
<line x1="1339.5" y1="2380" x2="1339.5" y2="2396.8" stroke="#000" stroke-width="6.2"/>
<text x="1340.7" y="2419.5" font-size="20" fill="#000" text-anchor="middle" font-weight="bold">5</text>
<line x1="1442.2" y1="2380" x2="1442.2" y2="2396.8" stroke="#000" stroke-width="6.2"/>
<text x="1443.4" y="2419.5" font-size="20" fill="#000" text-anchor="middle" font-weight="bold">10</text>
<line x1="1544.9" y1="2380" x2="1544.9" y2="2396.8" stroke="#000" stroke-width="6.2"/>
<text x="1546.1" y="2419.5" font-size="20" fill="#000" text-anchor="middle" font-weight="bold">15</text>
<line x1="1647.6" y1="2380" x2="1647.6" y2="2396.8" stroke="#000" stroke-width="6.2"/>
<text x="1648.8" y="2419.5" font-size="20" fill="#000" text-anchor="middle" font-weight="bold">20</text>
<text x="1326.4" y="1821.5" font-size="29" fill="#000" stroke="#000" stroke-width="0.35">9</text>
<text x="1344" y="1898.4" font-size="29" fill="#000" stroke="#000" stroke-width="0.35">30</text>
<text x="1360.1" y="1968.2" font-size="29" fill="#000" stroke="#000" stroke-width="0.35">11</text>
<text x="1381.7" y="2042" font-size="29" fill="#000" stroke="#000" stroke-width="0.35">17</text>
<text x="1439.9" y="2117.6" font-size="29" fill="#000" stroke="#000" stroke-width="0.35">29</text>
<text x="1488.4" y="2189.1" font-size="29" fill="#000" stroke="#000" stroke-width="0.35">24</text>
<text x="1494.9" y="2262.6" font-size="29" fill="#000" stroke="#000" stroke-width="0.35">28</text>
<text x="1566.3" y="2340.5" font-size="29" fill="#000" stroke="#000" stroke-width="0.35">21</text>
<text x="1022.7" y="1825.1" font-size="29" fill="#000" text-anchor="middle" stroke="#000" stroke-width="0.35">Nucleus organization</text>
<text x="1022.7" y="1898.3" font-size="29" fill="#000" text-anchor="middle" stroke="#000" stroke-width="0.35">Regulation of cell cycle process</text>
<text x="1022.7" y="1968.2" font-size="29" fill="#000" text-anchor="middle" stroke="#000" stroke-width="0.35">mRNA export from nucleus</text>
<text x="1022.7" y="2044.8" font-size="29" fill="#000" text-anchor="middle" stroke="#000" stroke-width="0.35">RNA localization</text>
<text x="1022.7" y="2118.4" font-size="29" fill="#000" text-anchor="middle" stroke="#000" stroke-width="0.35">Peptide biosynthetic process</text>
<text x="1022.7" y="2189.1" font-size="29" fill="#000" text-anchor="middle" stroke="#000" stroke-width="0.35">mRNA catabolic process</text>
<text x="1022.7" y="2259.2" font-size="29" fill="#000" text-anchor="middle" stroke="#000" stroke-width="0.35">mRNA splicing via splicesome</text>
<text x="1022.7" y="2329.4" font-size="29" fill="#000" text-anchor="middle" stroke="#000" stroke-width="0.35">SRP-dependent cotranslational</text>
<text x="1022.7" y="2363" font-size="29" fill="#000" text-anchor="middle" stroke="#000" stroke-width="0.35">protein targeting</text>
<text x="1445.3" y="2457.2" font-size="29" fill="#000" text-anchor="middle" stroke="#000" stroke-width="0.35">Enrichment score</text>
<text x="1445.3" y="2490.9" font-size="29" fill="#000" text-anchor="middle" stroke="#000" stroke-width="0.35">(-log (adjusted <tspan font-style="italic">P</tspan> value))</text>
</svg>
</body></html>
